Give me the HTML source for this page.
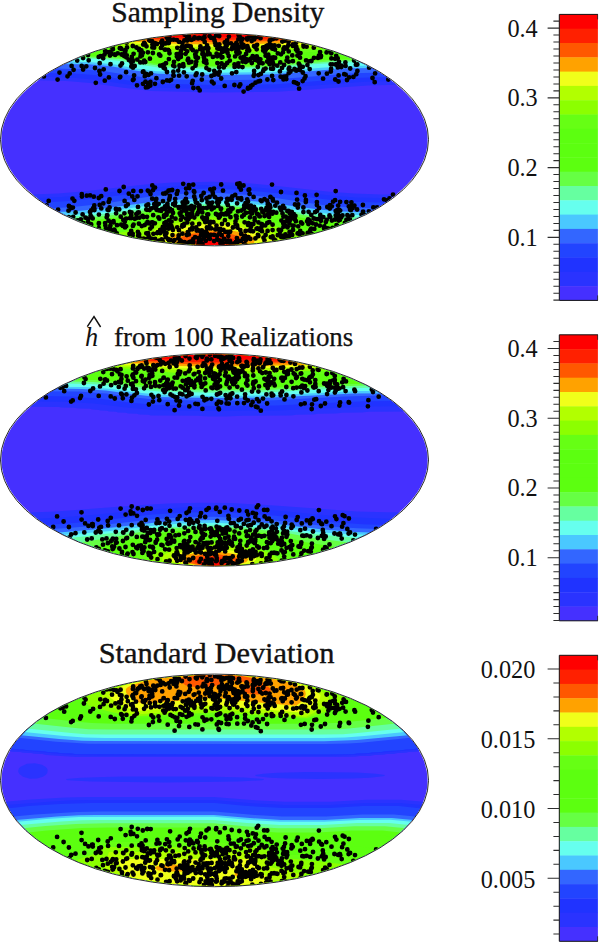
<!DOCTYPE html>
<html><head><meta charset="utf-8"><style>
html,body{margin:0;padding:0;background:#fff;}
svg{display:block;}
text{font-family:"Liberation Serif",serif;fill:#111;}
.lab{font-size:24.3px;}
.ttl{font-size:29px;stroke:#111;stroke-width:0.35px;}
</style></head><body>
<svg width="600" height="942" viewBox="0 0 600 942">
<text x="111.2" y="22" class="ttl" textLength="213" lengthAdjust="spacingAndGlyphs">Sampling Density</text>
<path d="M87.3 326.6L94 316.5L100.6 327" stroke="#111" stroke-width="1.45" fill="none"/>
<text x="85" y="345.8" style="font-size:26.3px;font-style:italic">h</text>
<text x="114" y="345.8" style="font-size:26.3px;stroke:#111;stroke-width:0.25px" textLength="239.3" lengthAdjust="spacingAndGlyphs">from 100 Realizations</text>
<text x="98.7" y="662.5" class="ttl" textLength="235.7" lengthAdjust="spacingAndGlyphs">Standard Deviation</text>
<clipPath id="cp0"><ellipse cx="214.5" cy="139.5" rx="213.1" ry="105.5"/></clipPath>
<g clip-path="url(#cp0)">
<rect x="0" y="31.2" width="432" height="216.6" fill="#4530ff"/>
<path fill="#2a33ff" fill-rule="evenodd" d="M-1 30.2L431 30.2L431 84.7L398 84.7L368 85.4L278 91.8L214 92.5L151 91.1L121 87.6L93.2 83.2L66 81L37 80.3L-2 80.3L-2 30.2ZM188 182.2L213 181.8L251 183.6L275 185.7L327 191.5L354 193.6L381 194.6L431 194.6L431 248.2L-2 248.2L-2 194.6L32 194.5L58 193.4L84.8 191.2L145 184.6L172 182.6Z"/>
<path fill="#2033ff" fill-rule="evenodd" d="M-1 30.2L431 30.2L431 81.1L394 81.1L365 81.8L277 88.3L214 89L152 87.5L124 84.1L97 79.7L70 77.5L41 76.7L-2 76.7L-2 30.2ZM191 185.2L216 185.1L243 186.3L275.5 189.2L333 195.7L356 197.4L380 198.1L431 198.1L431 248.2L-2 248.2L-2 198.1L36 198.1L61 197L90 194.4L151 187.5Z"/>
<path fill="#2244ff" fill-rule="evenodd" d="M-1 30.2L431 30.2L431 77.1L388 77.1L360 77.8L276 84.2L214 85L154 83.6L127 80.2L100 75.6L75 73.6L47 72.9L-2 72.9L-2 30.2ZM181 189.2L214 188.6L246 190.2L276.9 193.2L331 200L354 201.7L377 202.4L431 202.4L431 248.2L-2 248.2L-2 202.4L42 202.4L65.8 201.2L95 198.4L151 191.4Z"/>
<path fill="#3366ff" fill-rule="evenodd" d="M-1 30.2L431 30.2L431 72.5L381 72.5L354 73.3L274 79.5L214 80.3L156 78.9L129 75.3L105 71.2L81 69.2L55 68.5L-2 68.5L-2 30.2ZM191 193.2L215 192.8L246 194.7L274 197.7L326 205.5L347 207.3L372 208.2L431 208.3L431 248.2L-2 248.2L-2 208.3L51 208.3L70 207.2L101 203.9L154 195.9Z"/>
<path fill="#4ac8ff" fill-rule="evenodd" d="M-1 30.2L431 30.2L431 67.7L346.4 68.2L271 74.4L214 75.1L158 73.8L130 69.8L111.2 66.2L88.2 64.2L-2 63.8L-2 30.2ZM187 199.1L214 198.5L238 199.8L270 202.9L321 209.8L343 211.5L364 212.1L431 212.1L431 248.2L-2 248.2L-2 212.1L58 212.1L75 211.3L105 208.3L156 201.4Z"/>
<path fill="#66ffee" fill-rule="evenodd" d="M-1 30.2L431 30.2L431 65.4L355 65.8L321 67.7L271 72.2L214 72.8L157 71.2L135 68.2L115 64.4L92 62.3L68 61.5L-2 61.5L-2 30.2ZM181 202.2L213 201.3L238 202.6L270 205.8L318 212.7L335.8 214.2L358 214.9L431 214.8L431 248.2L-2 248.2L-2 214.8L63 214.8L79.6 214.2L109 211.2L156.8 204.2Z"/>
<path fill="#66ffa0" fill-rule="evenodd" d="M-1 30.2L431 30.2L431 62L345.6 62.2L313.6 64.2L290 66.7L267 68.5L214 69.1L162 67.9L140 64.8L122 61.2L104.5 59.2L79 58.2L-2 58.2L-2 30.2ZM194 204.2L215 203.9L245 205.7L266 207.9L315 214.5L334 216L355 216.7L431 216.7L431 248.2L-2 248.2L-2 216.7L66 216.7L82 216L107 213.6L156 206.8L178 204.9Z"/>
<path fill="#66ff44" fill-rule="evenodd" d="M-1 30.2L431 30.2L431 60.4L357 60.4L335 61L267 66.9L214 67.5L163 66.2L140 62.9L121 59.1L101 57.7L79 57.2L-2 57.2L-2 30.2ZM184 206.2L214 205.5L243 207.2L268 209.9L314 216.6L335 218.3L353 218.8L431 218.8L431 248.2L-2 248.2L-2 218.8L71 218.8L84 218.1L114 215L159 208.3Z"/>
<path fill="#5cff10" fill-rule="evenodd" d="M-1 30.2L431 30.2L431 59.2L334 59.5L308 61.5L271 65.2L214 66.2L164 64.7L144.8 62.2L122 57.8L103 56.5L-2 56.3L-2 30.2ZM184 208.2L213 207.3L236 208.5L267 211.9L310 219L332 220.8L349 221.3L431 221.3L431 248.2L-2 248.2L-2 221.3L77 221.3L88 220.7L117 217.5L160.9 210.2Z"/>
<path fill="#5cff10" fill-rule="evenodd" d="M-1 30.2L431 30.2L431 56L328 56.3L305 57.6L263 61.4L215 62L167 60.8L128.7 55.2L110 54.1L-2 53.7L-2 30.2ZM189 210.2L214 209.5L240 211.2L265 214.2L306 221.6L326 223.4L344 224L431 224L431 248.2L-2 248.2L-2 224L83 224L93 223.5L121 220.2L162 212.6Z"/>
<path fill="#5cff10" fill-rule="evenodd" d="M-1 30.2L431 30.2L431 53.7L321 54L301 55.1L261 58.3L215 59L169 57.8L132 53L113 52L-2 51.7L-2 30.2ZM201 212.2L218 212.1L246 214.5L264 216.9L301 224.2L320 226L337 226.6L431 226.6L431 248.2L-2 248.2L-2 226.6L96 226.4L110 225.1L125 222.9L146.8 218.2L164 215.2L182 213.3Z"/>
<path fill="#66ff14" fill-rule="evenodd" d="M-1 30.2L431 30.2L431 51.4L316 51.7L258 55.4L215 56L171 54.9L136 50.8L118 50L-2 49.7L-2 30.2ZM192 215.2L215 214.5L241 216.5L263 219.6L296 227.1L317 229.3L329 229.8L431 229.8L431 248.2L-2 248.2L-2 229.8L103 229.7L115 228.4L130 225.9L147.9 221.2L166 217.7Z"/>
<path fill="#8cff00" fill-rule="evenodd" d="M-1 30.2L431 30.2L431 48.9L309 49.1L255 52.1L215 52.5L175 51.7L141 48.4L124 47.7L-2 47.5L-2 30.2ZM204 217.2L222 217.4L250 220.6L268.1 224.2L289 230.4L312 233.5L431 233.7L431 248.2L-2 248.2L-2 233.7L116 233.5L137.4 229.2L152.3 224.2L168 220.6L186 218.4Z"/>
<path fill="#b2ff00" fill-rule="evenodd" d="M-1 30.2L431 30.2L431 46.6L303 46.8L252 49.2L215 49.5L177 48.9L146.7 46.2L129 45.6L-2 45.5L-2 30.2ZM205 220.2L215 219.9L225 220.7L240 222.5L256 225.2L268.6 229.2L273.3 232.2L277 235.6L284.4 237.2L291 237.9L431 238.1L431 248.2L-2 248.2L-2 238.1L135 238.1L148 235.1L149.9 234.2L152.3 231.2L156.9 228.2L161.4 226.2L167 224.7L184 221.9Z"/>
<path fill="#f0ff1a" fill-rule="evenodd" d="M-1 30.2L431 30.2L431 44.6L309 44.7L281 45.3L249 46.7L215 47L180 46.5L151 44.3L135 43.8L-2 43.7L-2 30.2ZM214 223.2L233 225.6L251 229.6L262 235.2L267 239.1L276 241L431 241.1L431 248.2L-2 248.2L-2 241.1L152 241L159 238.2L163.4 234.2L176 228.2L194 225Z"/>
<path fill="#ffa200" fill-rule="evenodd" d="M-1 30.2L431 30.2L431 42.7L300 42.7L246 44.3L215 44.5L183 44.1L142 42.1L-2 42L-2 30.2ZM202 229.1L214 228.4L218 228.7L233 230.7L246 233.5L250.2 235.2L253.4 237.2L254.9 239.2L255 240.2L253.9 242.2L254.3 243.2L257 243.7L431 243.9L431 248.2L-2 248.2L-2 243.9L171 243.7L173.1 243.2L171 240.2L170.6 238.2L172.2 236.2L175.4 234.2L180 232.4L184 231.5Z"/>
<path fill="#ff5800" fill-rule="evenodd" d="M-1 30.2L431 30.2L431 40.8L291 40.8L215 42L187 41.8L147 40.4L-2 40.3L-2 30.2ZM205 232.2L215 231.7L231 233.9L243 237.2L245.3 239.2L245.6 240.2L244.2 242.2L237 244.4L227 245.9L214 246.1L202 245.9L191 244.3L182.5 242.2L180.1 240.2L180 239.2L181.4 237.2L185 235.4L194 233.5Z"/>
<path fill="#ff2000" fill-rule="evenodd" d="M-1 30.2L431 30.2L431 39.2L285 39.2L215 39.9L155 38.9L-2 38.8L-2 30.2ZM208 235.2L215 234.8L225 236.3L234 238.9L236.8 240.2L237.2 241.2L236.5 242.2L234.6 243.2L231.5 244.2L223 245.5L211 245.7L205 245.5L196.5 244.2L190.6 242.2L188.7 240.2L190 238.8L194.9 237.2Z"/>
<path fill="#ff0000" fill-rule="evenodd" d="M-1 30.2L431 30.2L431 37.2L-2 37.1L-2 30.2ZM213 238.2L216 238.3L223 240.2L226 242L226.3 243.2L224.9 244.2L221.3 245.2L211 245.4L202.3 244.2L200.1 243.2L199.7 242.2L200.5 241.2L204 239.8Z"/>
<path d="M158.4 217.3h0M219.4 233.5h0M284.2 39.8h0M337.8 67.4h0M219.8 216.4h0M350.1 209.8h0M235.5 221.3h0M88.0 221.8h0M237.5 240.4h0M207.5 202.5h0M200.4 46.3h0M288.7 51.4h0M86.4 218.1h0M201.2 239.8h0M296.3 46.7h0M252.1 212.6h0M316.9 202.1h0M311.7 234.1h0M146.3 233.3h0M320.0 218.1h0M105.4 225.4h0M234.1 243.5h0M190.2 217.0h0M105.1 223.1h0M153.4 233.8h0M273.1 200.7h0M345.6 65.9h0M344.9 222.9h0M114.9 230.9h0M338.5 81.5h0M167.6 206.4h0M213.6 38.1h0M258.4 81.4h0M124.8 52.1h0M178.2 59.1h0M288.7 61.7h0M222.4 57.2h0M165.2 193.6h0M296.0 49.5h0M242.7 61.5h0M238.1 198.4h0M344.2 74.2h0M264.5 216.1h0M214.2 207.6h0M219.6 232.5h0M179.6 66.3h0M232.3 196.4h0M94.4 210.1h0M316.9 205.1h0M194.0 207.8h0M174.5 240.1h0M156.9 203.7h0M284.4 208.1h0M192.3 223.7h0M386.8 200.5h0M254.7 210.4h0M288.7 73.2h0M296.5 192.9h0M215.4 229.4h0M209.0 237.6h0M68.9 206.0h0M209.6 226.8h0M168.0 40.1h0M250.1 212.5h0M224.7 85.9h0M307.7 234.2h0M187.1 214.6h0M254.1 70.9h0M227.5 50.2h0M256.7 49.3h0M160.9 47.9h0M144.8 76.2h0M157.0 44.0h0M247.9 60.6h0M166.3 192.7h0M267.6 230.9h0M176.9 56.5h0M188.2 58.7h0M220.2 228.8h0M309.6 220.4h0M292.9 61.2h0M131.5 212.5h0M251.0 85.9h0M120.7 216.7h0M161.6 42.0h0M263.2 70.9h0M180.8 56.9h0M298.2 204.3h0M247.2 199.3h0M292.3 216.4h0M246.8 38.4h0M207.1 233.7h0M363.1 211.6h0M169.4 224.9h0M269.8 41.0h0M225.2 47.4h0M138.9 212.5h0M198.0 212.5h0M203.9 233.8h0M255.1 47.0h0M309.7 69.1h0M192.4 210.6h0M155.0 187.6h0M164.4 223.2h0M132.6 235.6h0M246.6 203.9h0M142.9 71.9h0M356.3 74.2h0M292.0 218.4h0M106.7 217.3h0M123.7 187.0h0M337.1 210.1h0M68.5 210.7h0M287.3 47.1h0M219.4 44.4h0M137.8 212.6h0M265.8 209.8h0M236.6 218.6h0M206.1 60.6h0M265.6 68.6h0M169.9 195.8h0M214.9 197.1h0M255.5 82.7h0M251.9 224.2h0M325.8 222.1h0M199.1 206.7h0M240.8 240.9h0M190.1 207.2h0M82.6 214.4h0M206.4 198.6h0M373.3 207.4h0M307.1 221.3h0M187.0 45.7h0M242.6 47.7h0M242.5 67.1h0M231.8 49.0h0M232.5 46.7h0M206.4 218.2h0M48.7 200.9h0M117.7 53.3h0M193.9 191.2h0M116.7 209.6h0M112.9 49.3h0M68.8 217.1h0M192.1 229.3h0M150.7 208.6h0M169.5 80.8h0M248.6 189.9h0M105.8 189.4h0M288.6 211.0h0M311.6 233.8h0M230.3 211.6h0M345.4 62.4h0M244.4 60.1h0M320.1 52.1h0M143.0 83.8h0M168.1 49.8h0M179.7 213.3h0M167.4 204.9h0M192.6 68.3h0M250.3 238.9h0M353.4 76.9h0M248.0 48.1h0M119.2 209.4h0M234.4 85.0h0M231.0 43.3h0M269.1 210.4h0M192.2 227.9h0M261.6 201.2h0M108.9 77.4h0M140.3 62.4h0M255.9 209.5h0M221.7 235.2h0M267.2 48.1h0M152.9 53.0h0M187.3 202.3h0M263.1 47.4h0M241.2 234.0h0M181.7 47.1h0M277.8 53.3h0M168.8 43.0h0M324.3 226.4h0M291.6 214.5h0M313.8 47.7h0M137.9 232.0h0M287.5 227.3h0M58.1 209.7h0M183.9 72.3h0M115.9 209.0h0M234.1 48.2h0M321.0 55.9h0M278.8 45.8h0M314.3 228.9h0M146.5 46.3h0M165.3 225.5h0M209.4 228.3h0M178.9 208.1h0M324.2 226.8h0M293.7 225.7h0M241.3 210.6h0M309.0 61.3h0M329.8 208.6h0M141.8 226.1h0M153.5 43.2h0M186.9 235.0h0M357.3 64.5h0M249.4 208.1h0M226.3 213.2h0M173.6 39.7h0M260.5 38.2h0M177.8 86.4h0M172.0 210.2h0M199.7 90.4h0M216.9 235.7h0M272.7 199.0h0M240.6 57.6h0M74.3 200.8h0M114.3 54.3h0M152.3 185.5h0M124.8 221.7h0M218.9 217.7h0M349.1 77.3h0M247.2 207.2h0M335.1 219.5h0M165.2 209.0h0M169.2 240.8h0M119.8 48.2h0M290.4 71.7h0M204.0 61.8h0M219.2 36.2h0M209.6 54.0h0M78.1 220.4h0M357.4 70.9h0M179.5 65.5h0M203.3 37.7h0M159.0 240.7h0M169.0 220.5h0M279.9 71.4h0M339.2 215.8h0M336.2 55.8h0M305.8 202.0h0M131.2 230.9h0M342.5 215.5h0M182.2 206.7h0M268.0 47.4h0M267.3 223.0h0M236.3 72.1h0M252.6 84.8h0M126.1 72.2h0M145.3 62.0h0M169.0 50.8h0M214.5 40.4h0M119.9 77.3h0M299.1 88.7h0M149.9 40.8h0M221.5 213.6h0M179.6 239.8h0M107.6 209.7h0M323.1 78.7h0M339.2 209.8h0M272.1 76.0h0M320.9 220.8h0M198.6 242.1h0M147.0 216.8h0M108.5 210.2h0M212.3 202.6h0M230.8 243.6h0M206.5 63.4h0M178.6 207.1h0M187.0 37.0h0M270.8 237.1h0M280.3 62.4h0M289.4 235.9h0M338.7 220.6h0M172.9 229.9h0M389.5 198.5h0M238.3 63.3h0M202.3 217.5h0M196.2 227.3h0M112.9 46.2h0M280.1 231.5h0M189.0 62.7h0M189.7 214.0h0M109.5 199.3h0M120.3 76.8h0M131.3 66.5h0M100.1 74.5h0M188.8 36.3h0M170.0 209.0h0M124.4 213.3h0M304.9 195.5h0M262.0 231.2h0M252.1 213.4h0M88.1 219.2h0M311.2 228.6h0M187.2 40.5h0M242.2 216.5h0M108.3 229.0h0M264.5 240.4h0M114.3 229.6h0M230.7 244.2h0M352.6 208.0h0M95.0 68.0h0M365.0 214.8h0M198.8 230.5h0M120.6 48.1h0M202.8 52.5h0M201.8 79.6h0M243.4 44.8h0M337.1 225.8h0M200.6 48.5h0M267.1 200.6h0M88.7 60.3h0M283.5 226.7h0M193.4 241.9h0M222.0 224.0h0M286.3 79.0h0M341.4 65.7h0M297.9 83.8h0M298.2 226.3h0M164.2 231.8h0M171.5 226.2h0M191.6 214.4h0M162.3 65.7h0M260.8 73.9h0M218.7 214.8h0M303.5 45.0h0M270.4 207.3h0M280.6 76.7h0M238.7 66.5h0M193.4 88.0h0M246.1 53.9h0M234.1 44.8h0M272.3 48.7h0M219.1 67.4h0M43.9 76.4h0M289.3 217.8h0M350.8 210.2h0M173.4 241.3h0M269.5 64.1h0M270.4 196.9h0M350.2 68.5h0M172.1 190.2h0M87.8 218.8h0M151.2 208.4h0M146.1 74.0h0M147.8 190.6h0M254.1 39.4h0M185.9 198.9h0M192.7 80.9h0M283.1 205.9h0M303.4 212.1h0M307.7 232.9h0M241.1 198.1h0M110.2 51.8h0M149.6 210.0h0M217.4 48.4h0M240.3 230.1h0M136.3 218.0h0M195.8 64.3h0M217.5 199.2h0M276.3 212.7h0M147.6 222.0h0M191.5 61.8h0M244.7 59.5h0M181.1 54.3h0M86.8 195.7h0M309.9 231.7h0M194.5 37.3h0M93.0 208.5h0M124.6 200.9h0M202.5 243.9h0M177.3 47.8h0M227.0 242.3h0M224.0 214.4h0M177.6 191.1h0M144.2 60.6h0M256.4 37.1h0M193.1 243.1h0M304.5 78.6h0M242.8 239.0h0M184.4 40.5h0M164.3 64.4h0M245.0 235.9h0M178.9 230.2h0M265.2 225.4h0M206.2 234.8h0M237.1 203.3h0M143.5 217.0h0M263.3 212.3h0M249.2 189.5h0M176.7 54.1h0M71.6 65.9h0M226.8 45.4h0M337.9 213.2h0M176.8 193.9h0M157.9 232.2h0M241.1 39.3h0M198.7 238.6h0M104.5 54.6h0M148.5 74.9h0M263.8 69.4h0M259.2 62.4h0M253.7 75.8h0M245.9 239.9h0M284.5 238.6h0M189.3 188.1h0M272.7 62.2h0M287.2 217.9h0M346.4 219.7h0M293.0 230.0h0M257.7 60.8h0M273.3 80.1h0M272.9 45.6h0M105.1 51.1h0M296.2 42.5h0M139.4 237.3h0M204.9 33.5h0M194.3 191.9h0M207.5 221.4h0M192.3 214.2h0M275.0 49.3h0M291.8 211.8h0M229.9 198.9h0M335.7 215.3h0M187.8 232.1h0M300.2 231.0h0M221.6 63.5h0M245.7 62.1h0M123.5 224.8h0M330.0 205.1h0M338.6 75.4h0M258.3 236.2h0M143.4 71.3h0M262.4 211.8h0M220.9 198.8h0M85.5 217.7h0M175.2 202.8h0M199.1 209.5h0M335.7 191.1h0M329.6 216.8h0M132.9 80.1h0M198.1 245.1h0M201.2 234.5h0M152.4 47.4h0M168.6 211.4h0M316.0 224.5h0M57.6 79.6h0M243.1 47.3h0M187.7 60.1h0M169.7 197.6h0M265.6 55.7h0M228.3 236.1h0M237.3 184.0h0M307.4 65.1h0M198.1 88.1h0M70.4 207.1h0M93.8 196.7h0M300.5 53.1h0M155.8 200.2h0M290.1 220.1h0M225.9 44.2h0M73.6 69.8h0M328.3 228.7h0M289.3 67.7h0M235.8 215.8h0M346.4 202.1h0M165.3 49.7h0M319.1 208.0h0M132.3 196.4h0M83.1 69.5h0M186.1 211.2h0M137.0 85.3h0M177.9 56.3h0M285.0 221.9h0M150.3 228.6h0M142.6 215.9h0M271.3 61.6h0M143.3 62.3h0M126.6 42.7h0M163.6 67.8h0M127.8 204.5h0M235.1 56.4h0M193.4 239.0h0M149.1 40.0h0M250.9 227.1h0M98.9 214.6h0M243.5 185.5h0M240.3 84.5h0M281.0 54.3h0M227.9 224.5h0M204.9 221.1h0M292.2 235.0h0M111.7 230.3h0M261.2 208.8h0M292.9 45.9h0M199.4 210.3h0M231.0 208.5h0M163.2 242.7h0M324.1 228.4h0M335.2 79.5h0M195.8 202.3h0M232.9 227.5h0M318.7 73.3h0M46.6 205.3h0M220.9 48.2h0M199.4 241.1h0M375.1 73.4h0M232.0 73.3h0M292.9 214.7h0M283.4 216.6h0M144.3 239.0h0M219.7 71.8h0M312.7 223.3h0M160.2 229.8h0M185.9 218.6h0M327.3 207.0h0M247.4 46.1h0M258.5 59.0h0M278.2 235.2h0M249.9 217.3h0M203.9 57.3h0M284.3 47.4h0M181.3 241.5h0M238.3 49.8h0M272.6 224.7h0M122.0 63.5h0M351.9 205.5h0M180.9 51.1h0M330.8 71.5h0M159.3 218.7h0M211.2 206.0h0M229.8 60.6h0M229.8 232.0h0M120.5 65.6h0M272.6 230.1h0M297.1 199.7h0M284.9 225.9h0M202.3 212.4h0M292.5 225.7h0M336.4 64.3h0M159.9 240.5h0M308.6 211.8h0M90.6 215.4h0M254.7 220.4h0M257.8 67.0h0M258.5 214.7h0M141.6 54.4h0M347.0 80.0h0M185.6 53.8h0M88.0 55.0h0M272.6 236.5h0M208.4 48.2h0M204.7 41.9h0M337.2 65.4h0M265.8 49.8h0M245.6 212.9h0M331.9 220.5h0M295.0 204.5h0M248.0 201.6h0M340.1 216.6h0M146.4 205.5h0M257.1 214.0h0M91.2 210.4h0M306.1 60.4h0M124.2 56.0h0M242.3 39.0h0M164.1 229.3h0M297.8 207.5h0M269.3 44.7h0M211.2 228.3h0M247.3 39.6h0M217.8 44.7h0M196.6 73.3h0M279.9 207.7h0M80.9 219.3h0M182.7 45.3h0M207.2 54.4h0M326.9 73.7h0M216.3 35.4h0M150.4 81.9h0M263.2 50.4h0M291.2 233.5h0M282.0 67.9h0M303.6 46.5h0M335.7 211.1h0M264.5 199.1h0M138.1 235.7h0M140.8 54.3h0M165.0 206.3h0M162.7 241.3h0M244.0 208.5h0M199.2 224.0h0M223.7 67.4h0M315.1 212.2h0M341.2 217.4h0M218.0 48.7h0M177.2 227.3h0M253.3 58.0h0M340.1 201.8h0M274.6 45.5h0M320.3 214.9h0M108.6 220.7h0M184.7 242.1h0M221.2 78.5h0M75.6 212.5h0M318.0 57.9h0M209.0 206.6h0M72.5 198.6h0M163.2 193.6h0M162.2 45.3h0M289.6 231.9h0M267.1 61.6h0M247.9 88.7h0M160.1 65.6h0M217.6 215.0h0M116.8 233.5h0M204.4 48.4h0M238.6 35.1h0M221.1 208.7h0M288.7 68.9h0M105.9 228.3h0M189.2 242.1h0M195.1 237.2h0M183.2 64.2h0M148.7 191.3h0M170.8 226.5h0M144.2 42.8h0M230.2 231.6h0M257.9 234.9h0M161.2 42.4h0M206.9 218.2h0M253.6 196.9h0M132.9 225.9h0M124.1 224.9h0M280.5 208.8h0M297.3 51.2h0M191.3 39.9h0M182.7 202.6h0M254.0 46.1h0M154.9 223.3h0M302.6 233.3h0M195.7 75.2h0M283.5 79.4h0M348.8 206.3h0M236.4 42.8h0M248.0 224.9h0M153.1 190.1h0M258.5 222.4h0M186.7 76.3h0M191.5 205.8h0M277.8 235.2h0M281.0 192.0h0M213.4 222.2h0M224.7 42.4h0M161.1 210.9h0M205.0 218.5h0M268.5 212.9h0M137.5 196.3h0M336.5 225.2h0M170.0 190.3h0M244.6 222.3h0M253.0 58.0h0M248.5 223.1h0M169.2 199.7h0M143.2 44.6h0M209.6 36.2h0M341.3 67.0h0M243.9 244.3h0M237.3 44.9h0M266.5 208.0h0M166.7 37.4h0M273.4 57.3h0M154.2 207.6h0M393.0 194.6h0M238.4 39.2h0M211.9 81.7h0M232.6 208.5h0M174.4 66.3h0M71.0 208.1h0M174.4 66.3h0M182.3 217.0h0M331.1 69.0h0M136.4 47.5h0M207.3 236.2h0M162.9 65.2h0M249.6 193.9h0M69.7 73.5h0M251.8 63.0h0M217.6 203.5h0M188.8 234.4h0M281.2 237.0h0M125.6 50.0h0M164.9 223.2h0M295.9 82.8h0M275.1 57.7h0M259.3 63.2h0M284.1 76.6h0M152.0 41.1h0M281.1 230.0h0M197.3 203.1h0M266.3 46.2h0M159.1 54.5h0M311.4 61.0h0M201.3 196.0h0M153.2 215.2h0M103.7 69.3h0M183.2 183.8h0M231.7 199.8h0M244.2 237.0h0M139.0 49.0h0M209.2 69.8h0M351.4 202.3h0M354.1 60.5h0M302.2 223.6h0M196.7 230.6h0M178.5 244.0h0M211.2 37.9h0M98.9 228.2h0M225.3 65.0h0M273.2 211.9h0M287.6 219.3h0M319.8 225.7h0M347.4 215.2h0M145.5 81.7h0M206.9 208.0h0M171.1 79.8h0M197.9 57.8h0M172.4 228.5h0M235.5 223.4h0M193.9 207.8h0M103.3 203.4h0M227.6 52.9h0M339.0 61.8h0M219.6 48.7h0M260.2 229.9h0M164.7 49.6h0M300.0 57.7h0M175.0 205.4h0M237.3 53.8h0M186.1 188.6h0M241.3 233.3h0M143.7 238.6h0M100.7 56.2h0M273.0 68.8h0M293.8 214.2h0M126.4 57.3h0M217.1 202.2h0M282.3 41.6h0M169.4 36.4h0M297.4 55.6h0M247.7 201.2h0M167.9 238.9h0M269.8 205.2h0M180.8 219.8h0M183.5 66.3h0M294.8 69.7h0M173.4 75.4h0M72.9 207.6h0M180.6 57.0h0M254.6 218.2h0M238.1 46.9h0M166.0 237.2h0M210.9 234.9h0M216.6 53.7h0M156.6 209.8h0M283.0 52.3h0M128.8 193.7h0M110.4 225.6h0M295.4 215.9h0M262.6 63.3h0M288.4 44.9h0M317.0 219.2h0M251.7 41.1h0M179.3 54.6h0M145.9 87.4h0M195.5 55.7h0M288.6 41.7h0M203.7 193.0h0M245.3 244.3h0M270.0 211.4h0M248.0 88.0h0M352.3 215.2h0M129.9 211.9h0M234.6 66.9h0M221.6 57.6h0M168.9 59.1h0M176.9 40.1h0M267.4 79.5h0M275.0 49.6h0M308.4 224.0h0M239.6 183.3h0M208.9 202.8h0M272.2 213.7h0M326.6 52.4h0M303.4 207.5h0M202.4 38.8h0M272.0 184.6h0M272.4 58.9h0M168.5 190.7h0M133.3 190.9h0M205.6 218.8h0M252.7 56.2h0M167.4 203.7h0M117.0 225.2h0M166.2 221.9h0M256.4 36.6h0M178.7 235.5h0M138.0 206.9h0M270.5 44.9h0M219.5 240.6h0M355.9 64.7h0M224.9 220.2h0M293.0 44.3h0M211.4 76.0h0M179.1 75.7h0M277.3 65.7h0M224.1 238.9h0M203.4 218.2h0M183.6 209.7h0M182.6 202.3h0M141.9 55.4h0M91.2 224.5h0M160.2 210.2h0M167.0 72.0h0M255.3 59.9h0M220.1 54.7h0M199.5 205.5h0M240.9 189.7h0M294.5 69.0h0M154.1 47.7h0M330.7 64.3h0M125.0 227.4h0M166.5 233.1h0M193.8 38.8h0M225.2 231.8h0M240.8 57.7h0M361.5 214.6h0M281.1 210.1h0M253.7 58.1h0M99.7 63.2h0M131.4 62.4h0M160.3 55.7h0M260.1 81.0h0M335.1 58.8h0M239.7 36.8h0M339.8 219.9h0M107.3 52.1h0M272.5 39.2h0M236.6 216.3h0M285.5 48.6h0M152.2 198.7h0M129.9 218.1h0M236.9 238.1h0M172.5 235.1h0M174.0 61.9h0M121.6 54.5h0M148.1 233.1h0M162.8 226.9h0M113.5 221.2h0M298.8 63.7h0M179.1 41.9h0M216.5 225.7h0M228.2 210.5h0M164.0 215.3h0M81.8 194.2h0M235.2 46.5h0M261.9 224.2h0M199.1 38.0h0M254.1 207.0h0M295.9 221.2h0M297.2 49.3h0M275.1 57.9h0M191.4 48.8h0M115.1 54.9h0M348.3 216.1h0M195.6 57.1h0M290.6 71.1h0M156.4 78.2h0M132.7 60.1h0M165.1 234.9h0M122.9 225.9h0M222.9 242.9h0M146.5 223.4h0M250.8 205.6h0M133.6 53.8h0M180.1 55.6h0M258.5 75.1h0M178.2 70.6h0M116.1 213.3h0M141.4 50.4h0M137.3 59.6h0M308.1 219.5h0M139.1 234.2h0M189.2 37.1h0M188.9 185.1h0M152.5 222.5h0M227.2 63.0h0M228.9 199.6h0M301.0 222.3h0M335.6 64.5h0M166.0 63.2h0M127.0 47.4h0M170.1 40.0h0M189.5 208.5h0M98.8 223.8h0M149.3 223.3h0M243.8 56.9h0M250.3 87.5h0M217.4 228.8h0M227.7 240.6h0M76.7 220.7h0M202.4 53.9h0M183.8 225.8h0M150.5 194.0h0M228.9 36.6h0M354.4 205.7h0M81.7 66.0h0M209.9 238.8h0M296.2 70.7h0M205.8 240.8h0M173.4 71.7h0M140.5 56.4h0M94.4 208.7h0M268.3 54.7h0M282.3 236.4h0M195.5 54.3h0M158.8 203.8h0M349.9 219.3h0M177.8 54.2h0M297.6 233.4h0M241.3 199.6h0M247.3 50.6h0M261.6 224.2h0M374.7 82.2h0M224.7 48.7h0M259.8 216.4h0M213.6 83.3h0M227.5 204.3h0M101.3 208.4h0M257.6 228.5h0M131.8 57.0h0M265.2 215.3h0M186.2 193.3h0M157.2 233.1h0M98.9 223.1h0M299.7 234.4h0M333.1 201.6h0M384.0 199.3h0M257.1 44.8h0M267.6 45.3h0M182.4 42.9h0M277.0 202.7h0M239.2 86.3h0M164.0 216.9h0M310.3 230.1h0M142.9 52.8h0M196.3 61.4h0M119.5 191.0h0M184.7 200.7h0M166.6 214.8h0M289.8 213.2h0M175.2 199.0h0M330.3 217.1h0M248.7 37.3h0M220.5 243.0h0M194.4 206.8h0M188.6 219.1h0M194.2 196.4h0M147.9 87.0h0M180.6 52.7h0M186.0 244.1h0M293.9 82.2h0M165.0 207.8h0M223.5 230.0h0M180.7 215.4h0M203.4 55.1h0M245.9 58.8h0M305.5 76.2h0M345.6 74.6h0M227.4 231.8h0M305.9 200.0h0M227.5 43.9h0M330.1 207.3h0M139.3 217.7h0M299.8 69.9h0M99.7 204.9h0M175.5 218.7h0M110.5 64.2h0M263.5 237.7h0M285.0 40.7h0M302.8 66.8h0M182.7 242.1h0M323.3 217.1h0M235.2 195.0h0M284.1 65.0h0M204.3 59.0h0M219.0 202.0h0M198.1 38.4h0M299.8 66.8h0M179.9 207.1h0M184.7 204.0h0M203.2 208.1h0M332.3 64.3h0M126.0 206.1h0M190.7 46.3h0M283.3 223.5h0M252.4 36.3h0M331.4 58.4h0M156.5 206.1h0M267.9 203.3h0M133.6 224.6h0M192.0 241.2h0M217.2 56.3h0M209.5 197.0h0M223.0 190.7h0M150.3 85.5h0M228.7 56.0h0M207.9 51.6h0M239.6 52.8h0M256.8 56.4h0M316.9 211.1h0M94.3 205.4h0M212.7 192.4h0M271.0 68.7h0M302.7 81.1h0M264.7 51.8h0M206.4 68.1h0M289.3 222.9h0M211.1 206.7h0M377.1 207.4h0M286.6 60.6h0M125.3 51.8h0M214.1 241.1h0M287.9 226.3h0M192.8 50.2h0M214.3 74.7h0M111.1 53.9h0M149.9 58.7h0M155.0 83.8h0M327.7 228.3h0M285.4 234.5h0M234.5 64.4h0M182.4 233.7h0M220.8 209.0h0M331.8 206.3h0M140.9 53.5h0M309.4 222.2h0M286.1 76.5h0M178.4 238.1h0M222.1 51.3h0M236.0 242.0h0M121.2 224.7h0M205.3 222.2h0M212.9 56.9h0M226.4 202.3h0M246.2 212.8h0M292.3 55.4h0M337.3 219.3h0M167.0 80.4h0M81.9 196.6h0M273.6 64.7h0M207.3 214.4h0M318.9 55.7h0M83.1 58.1h0M251.1 208.5h0M206.9 198.1h0M134.7 66.0h0M299.5 65.0h0M237.4 242.6h0M276.5 38.3h0M302.8 72.5h0M188.5 215.8h0M171.5 221.7h0M198.8 237.9h0M241.4 42.2h0M90.9 224.2h0M368.9 211.3h0M214.2 70.8h0M201.8 230.3h0M216.1 72.6h0M172.2 190.0h0M214.3 74.3h0M148.2 204.5h0M132.7 233.8h0M162.2 208.9h0M208.2 214.4h0M203.3 238.2h0M275.3 205.7h0M224.6 51.0h0M147.9 83.3h0M131.2 214.4h0M217.4 63.1h0M210.8 221.9h0M214.0 188.6h0M269.1 216.9h0M296.3 69.8h0M173.0 212.9h0M101.2 196.2h0M59.5 72.6h0M111.7 46.7h0M314.0 57.8h0M306.6 46.7h0M211.7 209.3h0M162.8 82.0h0M207.1 45.3h0M316.6 194.8h0M86.3 66.3h0M148.6 235.8h0M362.9 205.0h0M310.5 222.4h0M193.2 184.7h0M228.0 214.2h0M241.8 45.3h0M129.5 234.0h0M278.7 229.8h0M155.1 238.9h0M297.5 50.0h0M203.7 219.3h0M168.3 228.7h0M195.5 65.7h0M295.1 219.8h0M162.2 40.7h0M154.2 204.2h0M192.1 83.2h0M121.3 48.9h0M188.2 46.0h0M245.5 203.1h0M243.9 214.9h0M215.5 45.0h0M113.6 222.3h0M332.6 227.9h0M244.2 205.4h0M187.4 36.9h0M132.8 46.0h0M91.4 217.0h0M108.7 201.9h0M202.4 234.8h0M170.3 239.8h0M161.7 239.4h0M92.7 218.4h0M136.3 214.1h0M151.9 222.3h0M195.2 54.3h0M201.8 200.2h0M98.7 56.9h0M194.3 217.5h0M186.5 209.8h0M244.6 244.0h0M282.5 213.5h0M195.1 199.5h0M261.2 227.8h0M285.6 216.6h0M131.2 218.0h0M227.2 198.8h0M218.5 74.5h0M181.7 211.5h0M337.7 58.4h0M258.4 235.4h0M134.8 218.8h0M311.3 215.0h0M98.8 198.0h0M210.3 189.3h0M239.4 187.2h0M269.8 40.5h0M269.3 222.2h0M144.7 225.1h0M281.8 235.7h0M109.6 207.5h0M275.3 240.4h0M227.1 40.3h0M320.7 57.2h0M184.3 223.8h0M255.4 238.4h0M134.1 75.3h0M126.2 226.3h0M67.5 76.3h0M133.6 79.3h0M141.0 191.1h0M287.4 211.2h0M319.9 55.5h0M192.4 210.5h0M222.2 52.0h0M221.2 184.5h0M190.1 229.5h0M147.9 52.3h0M206.1 231.7h0M217.2 239.5h0M165.1 43.3h0M215.9 214.0h0M126.8 55.3h0M184.4 48.6h0M107.1 215.1h0M73.2 216.8h0M238.1 48.5h0M243.6 91.6h0M90.1 195.3h0M329.5 215.5h0M326.7 219.8h0M272.4 62.2h0M156.3 199.0h0M182.4 225.2h0M250.9 231.0h0M123.3 219.9h0M283.5 49.0h0M139.2 50.3h0M200.2 49.1h0M165.9 43.4h0M204.5 37.6h0M388.3 79.5h0M226.5 214.3h0M132.9 61.3h0M331.3 53.3h0M95.8 82.8h0M357.1 209.5h0M250.3 58.9h0M340.2 210.6h0M199.9 243.8h0M110.1 229.1h0M227.9 205.2h0M289.8 218.6h0M238.0 211.3h0M154.9 43.2h0M263.9 47.5h0M268.4 58.3h0M220.0 240.7h0M206.9 227.5h0M187.3 222.4h0M287.3 57.6h0M260.4 59.3h0M197.3 214.2h0M349.5 207.0h0M186.7 207.4h0M151.0 73.4h0M165.3 224.4h0M196.4 51.6h0M369.1 67.7h0M215.0 42.7h0M158.9 210.4h0M77.2 60.6h0M270.5 57.6h0M259.3 216.2h0M237.3 240.2h0M256.6 228.6h0M236.3 52.1h0M213.0 194.5h0M209.7 223.6h0M372.5 78.0h0M248.5 237.2h0M131.3 215.7h0M107.4 215.3h0M202.2 74.5h0M104.8 80.7h0M260.7 200.3h0M203.6 235.6h0M230.5 217.2h0M215.9 72.6h0M130.4 60.4h0M171.8 216.8h0M281.4 220.6h0M134.3 199.9h0M237.1 225.3h0M253.0 231.3h0M218.2 205.9h0M265.6 235.0h0M229.9 241.0h0M103.2 58.3h0M128.9 60.0h0M251.6 36.6h0M147.0 209.8h0M254.1 74.7h0M145.2 44.2h0M187.2 51.3h0M148.5 237.5h0M226.1 46.8h0M249.5 230.5h0M313.9 218.5h0M160.2 233.0h0M110.9 222.3h0M274.4 38.4h0M237.4 227.6h0M173.2 65.6h0M287.7 238.0h0M151.9 226.8h0M274.0 239.4h0M99.4 70.9h0M169.5 53.3h0M287.8 236.7h0M173.1 204.2h0M166.6 212.9h0M187.7 38.2h0M146.3 209.6h0M330.7 50.4h0M253.3 224.1h0M173.7 75.8h0M164.9 68.6h0M171.7 227.3h0M245.6 231.0h0M110.0 55.5h0M245.6 46.6h0M214.0 234.8h0M182.2 226.6h0M152.4 44.6h0M151.2 238.6h0M335.1 200.2h0M267.8 204.4h0M338.2 205.6h0M90.0 211.9h0M163.0 201.2h0M184.6 34.7h0M126.1 218.7h0M249.2 50.5h0M162.0 239.6h0M138.9 223.7h0M83.3 223.2h0M133.0 67.7h0M190.2 241.9h0" stroke="#000" stroke-width="4.80" stroke-linecap="round" fill="none"/>
</g>
<ellipse cx="214.5" cy="139.5" rx="214.0" ry="106.3" fill="none" stroke="#111" stroke-width="0.9"/>
<clipPath id="cp1"><ellipse cx="214.5" cy="459.9" rx="213.1" ry="105.5"/></clipPath>
<g clip-path="url(#cp1)">
<rect x="0" y="351.6" width="432" height="216.6" fill="#4530ff"/>
<path fill="#2a33ff" fill-rule="evenodd" d="M-1 350.6L431 350.6L431 411.6L369 411.7L362.2 412.6L342 412.7L336.4 413.6L318 413.8L314 414.6L296 414.8L292 415.6L243 415.8L226 416.6L209 416.6L198 415.8L150.9 415.6L148 414.8L139 414.6L137 413.8L128 413.6L126 412.8L117.8 412.6L116 411.8L109 411.6L107 410.8L100 410.6L99 409.9L92 409.6L90 408.7L78 408.6L74 407.7L61.3 407.6L59 406.9L-2 406.6L-2 350.6ZM168 503.6L200 502.7L231 503.1L271 505.2L357 511.4L387 512.3L431 512.4L431 568.6L-2 568.6L-2 512.4L29 512.4L56 511.4L138 505.3Z"/>
<path fill="#2033ff" fill-rule="evenodd" d="M-1 350.6L431 350.6L431 405.9L368 406.5L278 410.4L214 411L152 409.9L122 407.1L94 403.5L65 401.7L-2 401.1L-2 350.6ZM182 507.6L214 507.1L234 507.7L276 510.4L335 516L356 517.5L390 518.7L431 518.7L431 568.6L-2 568.6L-2 518.7L36 518.7L55 517.8L92 515L149 509.4Z"/>
<path fill="#2244ff" fill-rule="evenodd" d="M-1 350.6L431 350.6L431 400.8L364 401.3L276 405.4L214 406L153 404.8L125 402L98 398.4L71 396.6L43 396L-2 396L-2 350.6ZM187 512.6L215 512L247 513.5L276 515.8L331 522L362 524.2L384 524.9L431 524.9L431 568.6L-2 568.6L-2 524.9L45 524.9L67.8 523.6L97 520.9L152.2 514.6Z"/>
<path fill="#3366ff" fill-rule="evenodd" d="M-1 350.6L431 350.6L431 395.5L379.8 395.6L344.6 396.6L274 400.3L214 400.8L154 399.5L131 397.1L106 393.6L78.7 391.6L-2 391.1L-2 350.6ZM180 517.6L214 516.7L246 518.2L273 520.3L329.7 526.6L357 528.3L378 529L431 529L431 568.6L-2 568.6L-2 529L51 529L65 528.3L97.6 525.6L154 519.2Z"/>
<path fill="#4ac8ff" fill-rule="evenodd" d="M-1 350.6L431 350.6L431 392.9L354 393.5L272 397.5L214 398.1L157 396.9L131 394.1L106 390.6L82 389.1L56 388.5L-2 388.5L-2 350.6ZM188 520.6L215 520L244 521.4L272 523.6L323 529.6L355 531.9L371 532.4L431 532.4L431 568.6L-2 568.6L-2 532.4L62 532.2L100 529L156 522.5Z"/>
<path fill="#66ffee" fill-rule="evenodd" d="M-1 350.6L431 350.6L431 390.8L361 391.1L271 395.3L214 395.9L158 394.8L129 391.6L109 388.7L85 387L-2 386.5L-2 350.6ZM183 523.6L214 522.7L239 523.9L270 526.4L319 532.2L349 534.2L367 534.7L431 534.7L431 568.6L-2 568.6L-2 534.7L62 534.7L72 534.2L108 531.2L158 525.3Z"/>
<path fill="#66ffa0" fill-rule="evenodd" d="M-1 350.6L431 350.6L431 387.8L371 387.8L338.7 388.6L270 392.2L214 392.7L159 391.5L136 389L112.7 385.6L90 384.1L65 383.5L-2 383.5L-2 350.6ZM195 525.6L215 525.2L253 527.3L270 528.8L323 534.9L358 538L431 538.1L431 568.6L-2 568.6L-2 538.1L70 538L155 528Z"/>
<path fill="#66ff44" fill-rule="evenodd" d="M-1 350.6L431 350.6L431 385.6L367 385.6L332.3 386.6L268 390L214 390.5L161 389.4L138 386.8L116 383.6L93 381.9L70 381.4L-2 381.4L-2 350.6ZM189 527.6L219 527.1L242 528.4L267 530.4L284.6 532.6L313 538.1L349 542.6L431 542.6L431 568.6L-2 568.6L-2 542.6L80 542.6L115 537L136 532.7L148.9 530.6L165 529Z"/>
<path fill="#5cff10" fill-rule="evenodd" d="M-1 350.6L431 350.6L431 383.7L347 384L277 387.6L210 388.6L162 387.6L136.7 384.6L120 381.9L96 380L-2 379.6L-2 350.6ZM193 529.6L215 528.8L237 530.2L263 533L282.9 536.6L306 542.2L336 547L431 547.1L431 568.6L-2 568.6L-2 547.1L92 547L122 541.1L138 536.9L155 533.4L169 531.5Z"/>
<path fill="#5cff10" fill-rule="evenodd" d="M-1 350.6L431 350.6L431 379.4L342 379.6L264 383.5L214 384.1L165 383L124.5 377.6L104 376.4L-2 376.1L-2 350.6ZM201 532.6L214 532L221 532.4L241 534.2L263 536.9L282 541.3L299 546.4L323 551.6L431 551.6L431 568.6L-2 568.6L-2 551.6L106 551.6L129 545.3L143.7 540.6L160.9 536.6L178 534.4Z"/>
<path fill="#5cff10" fill-rule="evenodd" d="M-1 350.6L431 350.6L431 376.3L344 376.4L305 377.6L261 380L214 380.5L168 379.5L129 374.8L110 373.8L-2 373.4L-2 350.6ZM212 535.6L234 537.1L261 540.7L278.6 545.6L291 550.6L311 554.8L431 554.9L431 568.6L-2 568.6L-2 554.9L118 554.8L133.7 550.6L151.6 543.6L167 539.7L189 537.1Z"/>
<path fill="#66ff14" fill-rule="evenodd" d="M-1 350.6L431 350.6L431 373.3L336 373.4L300 374.4L259 376.5L214 377L171 376.1L135 372.1L115 371.1L-2 370.9L-2 350.6ZM204 539.6L214 539L220 539.4L239 541.5L257 544.2L268.2 547.6L294.6 557.6L298 558.2L431 558.2L431 568.6L-2 568.6L-2 558.2L131 558.1L133.8 557.6L139.1 554.6L156.4 547.6L169.1 543.6L185 541.3Z"/>
<path fill="#8cff00" fill-rule="evenodd" d="M-1 350.6L431 350.6L431 370.4L317.6 370.6L256 373.2L214 373.5L174 372.8L143 369.6L123 368.5L-2 368.4L-2 350.6ZM212 542.6L215 542.5L231 544.2L255 548.1L268.7 552.6L278 558.6L279.1 560.6L281 561.2L431 561.4L431 568.6L-2 568.6L-2 561.4L147 561.3L149.4 560.6L149 558.6L155 553.5L158.4 551.6L166 549L174 546.9L185 545.2Z"/>
<path fill="#b2ff00" fill-rule="evenodd" d="M-1 350.6L431 350.6L431 368.3L321 368.3L253 370.7L215 371L176 370.3L146 367.5L129 366.8L-2 366.6L-2 350.6ZM203 546.5L215 545.9L245.9 549.6L252 550.8L257 552.6L262 555.1L264.6 557.6L265.1 560.6L264.2 561.6L257 564L250.4 564.6L252 565.1L431 565.1L431 568.6L-2 568.6L-2 565.1L177 565.1L178.5 564.6L172 564.1L163.7 561.6L162 560.6L162.2 556.6L164.4 554.6L167 553.1L176 549.8Z"/>
<path fill="#f0ff1a" fill-rule="evenodd" d="M-1 350.6L431 350.6L431 366.5L317 366.5L251 368.5L215 368.8L178 368.2L149 365.8L132 365.2L-2 365.1L-2 350.6ZM211 548.6L215 548.4L227 549.7L248 553.5L254.4 556.6L256 558.5L256.2 559.6L253.9 561.6L250 563.2L242.7 564.6L227 566.3L207 566.4L198 566L179.9 563.6L174 561.7L170.8 559.6L170.5 558.6L171 557.4L172.9 555.6L180 552.5L195 550.1Z"/>
<path fill="#ffa200" fill-rule="evenodd" d="M-1 350.6L431 350.6L431 364.7L309 364.7L248 366.3L215 366.5L181 366L139 363.6L-2 363.5L-2 350.6ZM208 551.6L215 551.1L236 554.2L245 556.5L247.8 558.6L248.2 559.6L246.9 561.6L245.1 562.6L236.9 564.6L226 566L214 566.3L203 566L191.7 564.6L183 562.6L180.6 561.6L178.8 559.6L178.7 558.6L179.4 557.6L184 555.2L195 553.1Z"/>
<path fill="#ff5800" fill-rule="evenodd" d="M-1 350.6L431 350.6L431 363L301 363.1L215 364.5L184 364.1L143 362.2L-2 362.1L-2 350.6ZM206 554.5L215 553.8L226 555.4L236.2 557.6L240 559.2L240.6 560.6L240.3 561.6L238.8 562.6L232.5 564.6L224 565.8L214 566.1L205 565.8L196 564.6L189.3 562.6L186.5 560.6L187.2 558.6L189.3 557.6L196 556Z"/>
<path fill="#ff2000" fill-rule="evenodd" d="M-1 350.6L431 350.6L431 361.4L296 361.4L215 362.5L186 362.1L149 360.8L-2 360.7L-2 350.6ZM213 556.5L218 556.9L228 559.2L231.6 560.6L232.4 561.6L232.3 562.6L228.3 564.6L223.4 565.6L212 565.9L205.3 565.6L200.1 564.6L195.4 562.6L194.8 561.6L195.4 560.6L199 559Z"/>
<path fill="#ff0000" fill-rule="evenodd" d="M-1 350.6L431 350.6L431 359.2L285 359.2L215 359.8L155 358.8L-2 358.8L-2 350.6ZM214 559.5L221 561.7L223.1 563.6L222.6 564.6L219.9 565.6L208.7 565.6L205.4 564.6L204.7 563.6L207.2 561.6Z"/>
<path d="M260.5 359.4h0M158.5 395.8h0M167.2 381.2h0M219.7 354.4h0M242.4 370.6h0M253.4 382.2h0M177.0 552.1h0M310.8 551.7h0M180.1 545.1h0M211.3 532.6h0M210.8 528.3h0M260.0 371.3h0M206.1 372.5h0M201.3 354.1h0M253.9 358.8h0M137.8 368.5h0M269.4 360.2h0M199.5 561.7h0M256.5 536.0h0M214.6 384.6h0M165.2 523.6h0M283.5 360.9h0M310.0 382.3h0M145.7 519.9h0M185.5 356.0h0M295.0 363.9h0M200.3 376.5h0M180.3 372.0h0M269.5 384.8h0M221.0 546.7h0M222.9 529.9h0M308.2 551.2h0M217.3 545.4h0M142.2 366.8h0M152.1 369.4h0M223.9 358.6h0M283.0 367.8h0M179.0 534.8h0M246.8 536.0h0M244.6 553.0h0M142.3 536.7h0M247.9 535.6h0M144.1 388.3h0M146.5 363.5h0M318.6 369.9h0M322.8 530.0h0M132.0 397.6h0M296.1 378.1h0M155.1 384.6h0M373.0 392.0h0M268.3 543.3h0M268.9 518.6h0M248.2 555.3h0M214.3 535.1h0M235.1 538.9h0M64.2 391.2h0M273.7 383.3h0M150.0 539.8h0M205.0 378.3h0M218.5 408.5h0M256.8 507.2h0M205.1 534.8h0M214.1 373.4h0M92.1 524.2h0M173.4 388.6h0M253.1 534.7h0M149.2 377.8h0M164.7 385.1h0M105.8 550.9h0M220.1 538.8h0M133.2 366.0h0M107.9 551.5h0M300.9 404.3h0M262.3 373.1h0M248.2 542.0h0M60.4 387.8h0M145.9 385.9h0M200.1 516.4h0M232.2 393.4h0M98.7 395.9h0M162.9 362.4h0M203.5 543.2h0M291.5 369.5h0M264.5 526.9h0M326.6 374.0h0M142.8 380.9h0M301.2 373.4h0M163.8 377.7h0M103.6 383.7h0M216.6 526.7h0M218.9 393.7h0M238.8 377.4h0M251.1 525.0h0M325.1 547.1h0M147.5 539.4h0M169.1 549.7h0M218.6 401.7h0M200.5 539.7h0M161.9 528.2h0M142.1 528.3h0M239.1 358.4h0M172.6 382.6h0M132.1 532.7h0M255.9 406.7h0M221.8 530.5h0M224.9 530.4h0M332.3 373.0h0M324.1 538.9h0M121.9 394.4h0M316.2 399.2h0M189.7 365.3h0M133.5 554.0h0M317.7 369.5h0M311.8 376.6h0M296.7 369.1h0M257.3 546.4h0M225.3 548.2h0M163.5 377.8h0M189.1 392.5h0M268.2 562.0h0M157.0 539.9h0M284.2 371.8h0M176.6 363.1h0M204.8 364.9h0M323.2 532.9h0M323.1 549.7h0M255.3 539.4h0M284.8 551.9h0M190.3 537.1h0M230.6 360.2h0M111.1 385.2h0M232.8 563.2h0M325.0 403.5h0M85.6 379.1h0M132.8 544.8h0M148.7 368.2h0M255.4 531.3h0M137.0 515.8h0M180.0 393.6h0M141.0 545.5h0M289.4 547.1h0M239.2 533.4h0M195.8 552.5h0M315.3 380.1h0M321.8 535.8h0M189.8 547.4h0M214.9 378.9h0M165.9 529.8h0M130.9 513.7h0M175.4 535.4h0M127.7 553.6h0M227.2 527.5h0M225.7 545.8h0M101.0 526.9h0M203.3 354.8h0M188.9 559.6h0M226.3 547.6h0M230.8 356.3h0M339.5 388.3h0M149.2 540.2h0M272.8 367.9h0M238.3 551.0h0M218.9 367.0h0M225.2 551.4h0M63.6 521.5h0M156.0 366.1h0M160.1 529.8h0M229.2 558.1h0M258.9 547.4h0M290.4 362.6h0M148.9 404.5h0M307.4 390.5h0M104.8 550.3h0M179.0 405.5h0M100.5 532.2h0M220.5 370.5h0M145.5 379.6h0M216.9 388.3h0M176.5 400.4h0M263.3 366.8h0M177.8 373.9h0M221.2 546.3h0M143.0 380.6h0M115.8 531.8h0M311.8 547.3h0M226.2 557.9h0M135.9 389.3h0M340.3 534.8h0M166.7 538.9h0M205.2 517.0h0M136.2 372.6h0M153.3 365.2h0M218.0 386.6h0M143.7 536.9h0M117.4 371.3h0M218.5 546.8h0M211.0 367.2h0M174.1 540.6h0M53.2 527.0h0M265.5 379.5h0M218.2 356.5h0M276.9 531.8h0M244.0 403.1h0M75.5 533.2h0M112.6 549.1h0M188.8 371.3h0M160.0 360.3h0M234.6 531.6h0M163.5 385.3h0M258.2 505.3h0M221.4 360.0h0M327.0 373.8h0M331.4 387.5h0M92.8 526.1h0M233.2 371.0h0M216.9 394.5h0M283.4 552.7h0M226.4 527.6h0M301.3 542.4h0M145.2 542.2h0M259.3 363.3h0M189.3 406.4h0M242.0 366.6h0M291.4 527.9h0M246.5 520.3h0M264.1 509.9h0M223.1 529.5h0M228.5 536.6h0M256.0 513.8h0M175.8 388.6h0M132.9 368.4h0M302.3 378.8h0M139.1 367.4h0M236.7 563.6h0M141.9 529.8h0M285.1 523.0h0M144.1 381.7h0M336.4 519.1h0M299.7 367.7h0M310.1 523.4h0M246.9 511.3h0M108.1 525.4h0M244.8 373.4h0M190.0 508.3h0M265.4 363.5h0M189.2 524.0h0M199.6 525.8h0M240.3 371.9h0M202.7 534.8h0M265.3 385.1h0M284.5 399.4h0M167.5 543.5h0M226.8 547.8h0M216.0 552.2h0M209.6 528.8h0M139.4 524.7h0M302.4 367.5h0M182.7 387.7h0M221.4 541.6h0M254.7 543.2h0M217.8 386.4h0M176.5 552.4h0M136.8 536.9h0M110.9 541.3h0M170.2 535.3h0M277.4 553.3h0M187.5 546.5h0M131.7 506.5h0M122.8 398.3h0M271.4 528.1h0M238.8 358.4h0M217.1 382.9h0M246.5 362.0h0M207.0 358.6h0M273.5 533.9h0M293.4 396.3h0M348.6 533.6h0M180.6 559.9h0M132.4 383.6h0M226.4 357.4h0M264.4 535.8h0M177.7 518.9h0M115.4 382.9h0M269.2 532.3h0M242.2 366.0h0M229.6 387.6h0M257.0 399.1h0M219.6 374.2h0M315.6 386.9h0M184.0 549.1h0M200.9 558.9h0M205.1 399.1h0M113.8 369.3h0M219.0 409.3h0M201.6 386.9h0M273.2 395.3h0M192.5 546.6h0M106.5 538.4h0M207.0 360.5h0M287.1 531.7h0M327.0 383.7h0M310.2 536.4h0M193.1 549.7h0M300.1 546.9h0M256.8 555.2h0M272.1 541.3h0M160.3 529.0h0M198.9 547.9h0M281.9 537.8h0M232.3 393.5h0M251.7 539.1h0M174.6 359.4h0M184.6 552.5h0M286.5 536.8h0M245.1 394.3h0M189.8 560.3h0M199.9 552.1h0M186.5 513.0h0M222.8 533.5h0M240.8 561.2h0M228.6 518.5h0M271.8 395.5h0M152.2 373.5h0M151.9 531.5h0M169.2 388.1h0M164.6 392.2h0M155.7 542.0h0M126.3 529.8h0M312.8 519.1h0M193.6 527.9h0M211.6 530.2h0M92.7 524.1h0M274.5 370.3h0M254.6 534.2h0M228.4 562.4h0M307.0 380.1h0M119.0 525.4h0M136.9 393.0h0M342.7 515.2h0M270.8 363.1h0M224.3 561.0h0M145.0 528.7h0M342.1 526.7h0M80.1 398.1h0M276.4 370.0h0M274.1 552.6h0M201.1 529.5h0M339.6 533.6h0M301.4 392.4h0M222.1 561.1h0M303.9 388.0h0M206.9 370.8h0M274.7 539.0h0M84.3 532.4h0M188.2 530.9h0M281.3 360.7h0M100.0 386.4h0M205.6 560.8h0M284.0 530.9h0M127.1 537.9h0M251.0 537.6h0M283.9 526.4h0M201.5 538.1h0M167.7 543.0h0M218.4 547.0h0M235.6 380.3h0M313.0 531.5h0M201.0 513.1h0M207.7 562.4h0M257.0 360.7h0M227.7 565.9h0M353.3 540.5h0M115.9 542.8h0M283.1 367.4h0M314.0 387.5h0M301.4 553.5h0M348.7 402.2h0M118.8 386.9h0M302.3 535.7h0M166.0 383.7h0M266.0 562.3h0M195.4 403.8h0M225.0 375.6h0M166.1 561.5h0M189.2 522.1h0M248.7 554.7h0M276.4 537.7h0M208.6 553.5h0M205.4 365.4h0M184.3 533.3h0M173.9 555.8h0M137.1 547.3h0M240.3 540.8h0M133.4 377.7h0M123.1 532.4h0M232.8 564.4h0M195.5 542.1h0M300.7 373.7h0M280.7 395.4h0M247.1 362.8h0M182.4 394.4h0M197.6 366.8h0M267.2 547.8h0M162.5 545.4h0M331.5 526.2h0M191.6 393.9h0M93.1 388.4h0M188.8 511.4h0M239.9 544.9h0M204.4 400.3h0M312.9 374.3h0M269.0 534.9h0M267.1 403.5h0M305.1 386.2h0M309.9 366.8h0M190.0 369.1h0M248.2 525.6h0M189.7 523.0h0M269.5 556.7h0M228.4 515.8h0M245.6 551.6h0M183.9 541.7h0M208.1 561.4h0M157.2 534.3h0M233.1 357.9h0M378.7 396.7h0M217.3 520.8h0M255.3 517.1h0M166.9 518.8h0M120.6 369.2h0M367.9 406.3h0M261.0 563.3h0M150.7 508.6h0M293.2 388.2h0M220.8 543.1h0M327.1 394.1h0M133.1 374.5h0M268.6 377.0h0M253.7 359.8h0M193.2 558.0h0M177.1 377.7h0M138.6 545.9h0M335.1 383.2h0M348.9 518.5h0M212.2 364.6h0M211.4 563.0h0M150.6 553.7h0M230.3 378.8h0M226.4 384.0h0M184.0 542.5h0M310.9 519.9h0M116.4 369.9h0M71.1 401.6h0M224.8 532.3h0M180.6 386.3h0M269.5 537.8h0M185.2 390.2h0M141.6 365.5h0M226.2 529.0h0M185.7 562.7h0M223.7 365.8h0M222.2 357.3h0M217.5 546.5h0M197.9 404.2h0M324.1 383.5h0M230.1 358.4h0M202.4 408.9h0M236.0 371.6h0M225.9 542.8h0M278.2 543.7h0M233.2 383.9h0M161.0 554.7h0M203.3 545.0h0M168.2 543.8h0M182.7 380.8h0M209.8 561.2h0M205.2 553.9h0M125.8 385.9h0M270.5 376.6h0M325.7 536.5h0M315.3 384.0h0M151.4 394.8h0M329.9 383.4h0M155.4 385.8h0M141.5 522.8h0M96.3 547.5h0M211.7 530.8h0M104.9 379.9h0M206.5 509.9h0M142.0 549.6h0M267.7 388.0h0M209.9 354.5h0M205.2 529.0h0M267.8 363.1h0M371.8 389.6h0M162.2 370.9h0M301.8 523.4h0M204.0 564.3h0M203.2 384.5h0M198.1 378.3h0M355.0 534.6h0M212.6 388.2h0M174.2 541.7h0M287.0 532.5h0M185.4 562.7h0M186.6 380.2h0M178.8 358.2h0M211.8 559.7h0M271.6 521.3h0M126.6 376.3h0M253.0 368.4h0M230.4 394.5h0M143.6 551.1h0M232.4 368.4h0M175.2 556.8h0M252.7 364.5h0M253.8 388.2h0M241.8 560.7h0M326.7 548.5h0M222.5 367.7h0M175.4 397.1h0M264.6 516.4h0M273.9 533.7h0M245.8 556.3h0M66.1 385.9h0M334.8 380.0h0M221.7 562.9h0M253.8 360.6h0M287.9 374.0h0M216.0 508.8h0M112.2 546.4h0M266.5 558.4h0M297.7 517.1h0M222.0 364.0h0M68.9 527.0h0M165.6 390.0h0M207.0 368.5h0M260.2 361.3h0M271.5 382.5h0M150.8 376.3h0M251.3 405.0h0M255.6 552.0h0M259.0 386.4h0M179.7 516.1h0M334.6 387.7h0M270.6 561.1h0M206.7 399.2h0M309.1 378.3h0M210.9 370.6h0M218.9 536.1h0M261.6 536.5h0M239.1 556.6h0M206.3 543.0h0M281.7 542.3h0M167.8 379.7h0M247.9 400.3h0M254.1 382.3h0M286.3 387.0h0M95.8 532.5h0M247.3 375.9h0M229.3 540.7h0M187.8 552.3h0M209.6 375.5h0M121.0 382.5h0M310.5 377.0h0M234.4 378.4h0M243.0 556.2h0M143.9 530.5h0M244.5 366.5h0M258.4 368.4h0M185.5 551.7h0M155.7 542.8h0M229.6 543.6h0M255.0 534.6h0M172.7 530.9h0M107.0 380.5h0M321.1 523.4h0M213.0 378.8h0M172.5 395.6h0M114.1 546.7h0M239.9 554.4h0M194.0 382.5h0M169.9 384.6h0M254.8 364.2h0M296.9 377.0h0M368.4 400.2h0M249.9 550.9h0M174.6 410.2h0M376.1 529.0h0M180.6 556.4h0M334.8 375.9h0M340.0 533.7h0M238.2 371.0h0M253.8 522.7h0M197.1 520.3h0M189.1 540.9h0M279.6 359.5h0M211.4 359.4h0M319.1 521.2h0M142.6 525.2h0M169.1 535.4h0M263.9 548.1h0M146.0 361.3h0M272.7 395.3h0M281.3 541.5h0M121.5 375.0h0M334.4 533.5h0M313.2 386.8h0M181.1 547.2h0M260.8 410.7h0M183.5 556.3h0M121.1 393.6h0M171.6 540.7h0M258.5 520.2h0M337.2 384.5h0M116.2 538.8h0M320.8 406.0h0M197.2 356.5h0M204.6 526.0h0M176.0 558.3h0M335.0 516.3h0M219.3 366.4h0M209.7 562.4h0M250.0 530.1h0M238.6 374.1h0M216.9 560.6h0M102.3 539.4h0M251.1 558.7h0M176.4 365.9h0M225.9 532.9h0M230.0 355.2h0M211.3 548.5h0M338.5 388.5h0M237.3 403.2h0M216.1 375.2h0M221.0 547.2h0M196.7 358.1h0M298.5 546.5h0M260.6 553.7h0M300.7 387.1h0M274.2 378.8h0M233.6 372.5h0M69.5 537.3h0M185.9 549.7h0M216.9 533.1h0M169.5 525.8h0M253.1 552.1h0M169.6 560.7h0M121.9 555.0h0M230.9 523.2h0M152.9 401.6h0M328.4 390.1h0M126.4 394.4h0M271.7 553.0h0M286.4 395.0h0M146.5 537.0h0M282.1 391.5h0M343.1 387.2h0M229.4 367.8h0M215.2 373.9h0M232.4 545.6h0M232.7 556.5h0M190.0 519.3h0M201.6 355.2h0M88.5 525.9h0M150.4 533.0h0M265.8 372.5h0M84.4 377.2h0M245.1 398.0h0M209.4 566.1h0M57.1 516.4h0M152.4 375.8h0M258.6 547.7h0M145.7 539.0h0M280.5 393.6h0M224.7 558.2h0M326.3 521.7h0M216.1 561.2h0M215.1 547.4h0M259.3 527.3h0M275.9 528.6h0M250.9 555.1h0M123.4 532.7h0M189.8 550.9h0M197.9 521.8h0M291.6 381.8h0M141.9 527.4h0M292.8 526.3h0M169.2 521.6h0M340.1 402.5h0M148.5 552.9h0M248.1 542.9h0M230.8 379.0h0M194.4 387.3h0M103.3 372.1h0M153.0 547.8h0M159.3 358.9h0M201.6 532.2h0M266.9 542.2h0M71.2 534.5h0M141.7 376.0h0M252.0 553.5h0M127.0 555.0h0M141.5 366.7h0M184.5 540.8h0M187.4 544.1h0M200.9 383.4h0M234.1 536.7h0M309.7 377.3h0M293.3 554.4h0M246.1 531.7h0M189.9 519.1h0M174.6 377.6h0M261.7 553.9h0M155.0 382.2h0M267.1 518.9h0M216.3 507.7h0M188.9 379.1h0M223.0 357.6h0M132.4 375.5h0M198.8 372.1h0M170.1 510.8h0M253.5 542.1h0M177.2 361.5h0M85.1 523.4h0M120.6 508.6h0M247.4 385.5h0M220.7 549.2h0M186.1 563.0h0M229.5 529.7h0M157.4 519.5h0M121.4 555.6h0M211.8 564.5h0M221.6 563.0h0M242.5 557.0h0M256.5 530.0h0M343.6 378.8h0M269.8 554.7h0M208.7 508.2h0M210.7 548.2h0M141.3 376.5h0M98.2 530.8h0M107.8 543.2h0M202.5 396.8h0M198.9 546.2h0M266.5 525.7h0M185.8 565.2h0M147.8 532.9h0M81.5 512.3h0M152.5 546.8h0M211.6 542.4h0M269.6 373.1h0M282.7 528.1h0M349.1 402.7h0M338.1 534.4h0M276.4 553.2h0M147.2 508.5h0M246.4 376.5h0M105.3 379.4h0M147.4 368.0h0M300.3 530.2h0M191.3 548.8h0M287.3 534.6h0M189.5 358.6h0M231.8 542.7h0M214.0 532.5h0M224.7 542.9h0M169.7 367.0h0M248.3 542.6h0M241.9 389.7h0M271.6 393.6h0M141.9 527.6h0M107.7 521.0h0M220.8 357.3h0M193.7 374.3h0M272.0 529.8h0M202.5 365.9h0M253.1 384.0h0M199.7 549.1h0M227.0 381.8h0M247.8 400.6h0M355.1 391.2h0M124.6 388.7h0M318.9 510.1h0M116.7 542.6h0M153.3 397.0h0M222.5 548.2h0M240.4 371.9h0M258.9 401.4h0M285.0 560.3h0M227.7 378.9h0M220.2 392.9h0M90.3 391.0h0M212.5 532.4h0M354.4 389.7h0M239.3 510.5h0M118.9 381.9h0M195.5 549.7h0M205.8 544.3h0M170.4 543.2h0M200.2 380.5h0M263.0 367.3h0M241.8 549.0h0M282.7 380.7h0M131.5 534.2h0M282.0 377.7h0M252.8 370.5h0M343.4 523.2h0M226.6 398.7h0M121.4 378.9h0M169.0 535.1h0M151.2 557.6h0M252.0 391.6h0M286.6 547.8h0M157.6 535.3h0M251.0 539.2h0M142.4 552.9h0M136.2 547.5h0M146.8 536.1h0M240.9 527.8h0M160.3 380.6h0M177.1 560.8h0M119.4 548.5h0M281.5 550.4h0M261.7 555.9h0M160.6 364.4h0M167.7 404.2h0M137.3 548.3h0M81.0 396.0h0M209.4 373.5h0M237.3 362.2h0M267.3 510.0h0M302.2 385.6h0M112.9 538.6h0M208.5 542.9h0M195.8 357.3h0M133.3 513.3h0M185.2 373.4h0M157.1 539.7h0M219.8 379.9h0M274.0 552.8h0M137.5 369.0h0M171.9 384.7h0M268.3 379.6h0M217.4 530.6h0M151.0 386.9h0M189.0 395.0h0M232.1 362.5h0M185.8 519.8h0M293.7 373.4h0M194.5 373.8h0M233.2 369.2h0M83.9 383.0h0M281.8 541.2h0M247.6 365.9h0M137.8 508.3h0M205.7 390.4h0M131.4 400.9h0M304.1 379.6h0M81.6 519.6h0M136.0 381.2h0M242.7 551.9h0M237.1 396.7h0M155.3 369.6h0M268.5 542.8h0M263.0 398.6h0M254.2 556.0h0M175.7 362.6h0M288.1 371.0h0M346.0 381.4h0M266.3 362.5h0M311.7 409.0h0M252.8 512.9h0M149.6 375.1h0M166.9 387.3h0M237.2 379.2h0M212.5 376.6h0M327.3 385.9h0M229.0 518.8h0M184.7 527.6h0M327.0 385.6h0M225.6 395.1h0M202.8 537.9h0M229.1 368.5h0M295.0 374.7h0M227.1 396.9h0M258.3 362.6h0M264.4 378.8h0M131.1 384.2h0M248.2 514.6h0M248.6 519.8h0M239.4 360.9h0M311.9 543.6h0M317.9 538.0h0M144.4 547.5h0M207.5 547.4h0M303.9 535.9h0M220.1 386.4h0M112.0 374.2h0M257.5 407.3h0M345.6 391.1h0M205.3 383.3h0M246.1 383.4h0M110.7 396.4h0M227.2 364.3h0M122.9 541.0h0M306.6 535.3h0M185.9 384.2h0M171.0 537.4h0M342.2 382.3h0M224.8 368.8h0M205.2 373.0h0M134.4 395.3h0M158.5 395.9h0M216.8 403.9h0M210.2 554.1h0M113.2 548.6h0M218.4 387.6h0M191.0 384.8h0M290.8 548.1h0M98.8 549.0h0M110.1 368.7h0M156.5 523.2h0M146.8 528.0h0M334.9 392.5h0M270.7 543.2h0M236.4 550.7h0M159.3 400.2h0M329.5 544.4h0M228.7 403.7h0M120.0 374.4h0M148.8 555.0h0M255.6 381.5h0M219.5 549.0h0M267.6 358.9h0M177.6 554.0h0M206.6 359.9h0M170.5 394.4h0M122.0 552.0h0M226.6 403.4h0M175.3 397.2h0M210.1 553.0h0M199.0 527.7h0M207.3 557.1h0M114.8 398.5h0M215.8 381.6h0M217.8 376.6h0M230.5 398.3h0M72.7 400.4h0M272.6 526.6h0M165.2 363.8h0M240.9 519.0h0M212.2 553.1h0M236.8 526.0h0M236.1 374.9h0M283.1 533.4h0M291.1 549.4h0M339.4 405.6h0M270.1 534.8h0M330.1 381.4h0M284.2 556.6h0M333.3 380.3h0M242.8 555.3h0M234.7 369.1h0M223.8 366.0h0M131.7 525.2h0M215.0 355.8h0M258.4 391.6h0M230.5 560.7h0M216.7 558.1h0M203.0 533.9h0M224.8 507.7h0M261.8 524.4h0M237.8 370.8h0M274.7 385.4h0M174.8 357.0h0M258.6 535.7h0M169.2 561.3h0M291.7 524.6h0M99.3 527.7h0M232.1 382.1h0M215.8 534.9h0M87.2 539.5h0M132.9 388.9h0M100.3 378.8h0M213.3 533.1h0M292.3 545.2h0M214.9 554.6h0M217.7 542.3h0M221.1 402.5h0M291.4 545.3h0M173.5 363.3h0M154.1 551.9h0M184.5 554.1h0M278.1 540.3h0M142.8 510.0h0M237.7 560.9h0M202.2 356.8h0M225.1 538.0h0M179.3 374.3h0M312.7 370.4h0M314.3 399.7h0M246.7 545.6h0M186.6 396.3h0M235.8 526.3h0M236.8 377.3h0M183.5 545.3h0M153.9 531.7h0M143.7 381.3h0M249.4 541.7h0M132.5 552.1h0M130.6 511.5h0M283.8 530.8h0M233.8 523.1h0M160.7 554.7h0M150.0 546.6h0M159.2 534.5h0M231.7 509.5h0M193.4 522.8h0M216.3 556.0h0M195.5 531.9h0M281.8 560.6h0M149.8 382.6h0M231.1 366.3h0M252.3 564.2h0M156.3 357.7h0M98.2 519.5h0M187.7 383.0h0M225.9 366.4h0M178.8 371.3h0M252.6 401.9h0M245.0 376.2h0M290.8 541.1h0M238.3 562.8h0M180.0 401.4h0M281.3 378.2h0M148.6 370.4h0M196.2 380.3h0M219.0 550.6h0M219.8 511.9h0M344.5 516.2h0M144.2 368.5h0M106.9 368.9h0M296.6 387.6h0M235.3 382.0h0M157.5 559.2h0M253.3 375.5h0M220.8 528.8h0M272.3 537.3h0M328.8 387.8h0M217.9 382.1h0M247.4 380.2h0M306.8 520.4h0M304.7 403.4h0M304.1 550.6h0M335.9 390.3h0M166.3 389.2h0M176.7 548.1h0M131.8 533.9h0M191.0 381.0h0M157.5 365.1h0M301.1 544.1h0M322.0 524.2h0M197.6 547.4h0M154.2 529.9h0M126.3 538.3h0M237.3 386.8h0M91.7 538.4h0M347.3 529.0h0M173.9 555.4h0M241.4 365.8h0M276.7 524.1h0M187.8 388.2h0M280.9 367.8h0M179.3 524.9h0M159.4 386.3h0M171.1 360.6h0M259.9 362.7h0M318.7 391.2h0M199.4 380.6h0M305.0 528.7h0M125.5 547.0h0M112.3 539.7h0M225.7 372.4h0M140.2 365.9h0M285.6 517.0h0M45.9 397.4h0M284.2 543.9h0M194.5 385.6h0M211.4 387.6h0M255.2 541.2h0M159.5 522.8h0M233.9 538.4h0M181.9 360.5h0M208.8 550.1h0M228.7 376.6h0M237.5 547.5h0M252.9 549.3h0M286.9 374.0h0M132.8 385.9h0M267.9 383.2h0M170.3 542.6h0M236.4 379.2h0M281.5 545.3h0M233.7 384.2h0M150.8 530.1h0M168.6 363.0h0M238.4 361.4h0M275.5 536.4h0M210.6 536.6h0M135.5 372.2h0M312.4 518.5h0M203.6 363.5h0M184.1 558.1h0M110.8 517.8h0M211.3 398.8h0M238.7 520.2h0M312.0 404.3h0M223.3 548.4h0M201.0 552.5h0M62.8 387.1h0M163.2 390.1h0M350.1 532.5h0M267.0 547.2h0M229.6 360.5h0M198.7 543.7h0M177.3 397.3h0M127.8 380.7h0M266.4 394.3h0M125.6 514.6h0M103.0 544.7h0M165.1 549.3h0M311.2 548.2h0M296.7 519.9h0M161.4 544.9h0M249.2 553.3h0M219.5 527.7h0M208.8 560.0h0M202.5 547.8h0M176.8 359.3h0M191.4 520.9h0M284.9 378.0h0M300.7 556.9h0M341.7 538.6h0M243.8 523.9h0" stroke="#000" stroke-width="4.80" stroke-linecap="round" fill="none"/>
</g>
<ellipse cx="214.5" cy="459.9" rx="214.0" ry="106.3" fill="none" stroke="#111" stroke-width="0.9"/>
<clipPath id="cp2"><ellipse cx="214.5" cy="780.4" rx="213.1" ry="105.5"/></clipPath>
<g clip-path="url(#cp2)">
<rect x="0" y="672.1" width="432" height="216.6" fill="#4530ff"/>
<path fill="#2a33ff" fill-rule="evenodd" d="M-1 671.1L431 671.1L431 751.1L419.4 751.1L417 751.8L408.7 752.1L406 752.8L397.7 753.1L394 753.9L386.6 754.1L384 754.7L374.9 755.1L370 755.9L359.9 756.1L355 756.8L330 757.1L76 756.9L46 754.9L42.4 754.1L34 753.8L31.3 753.1L23 752.8L20.3 752.1L12 751.8L9.6 751.1L-2 751.1L-2 671.1ZM27 763.8L35 763.2L42 764.8L45 766.4L46.8 768.1L47.7 770.1L47.3 773.1L45.6 775.1L43 776.8L37 778.6L30 778.7L23 776.8L19.4 774.1L18.3 772.1L18.3 770.1L19.2 768.1L21 766.4ZM307 772.1L357 772.5L376 773.7L384.8 775.1L384.3 776.1L383 776.3L370 777.8L352 778.6L320 778.9L288 778.6L270 777.8L257 776.3L255.7 776.1L255.2 775.1L263 773.8L277 772.8ZM104 777.1L124 776.6L207 776.6L245 777.6L264.2 779.1L263.1 780.1L262 780.2L239 781.6L165 782.6L91 781.6L68 780.2L66.9 780.1L65.8 779.1L81 777.8ZM90 797.1L214 796.9L251.6 800.1L285 801.8L331 801.8L367 799.8L401 799.8L424 801.8L431 801.8L431 889.1L-2 889.1L-2 801.8L5 801.8L31 799.5L65 797.5Z"/>
<path fill="#2033ff" fill-rule="evenodd" d="M-1 671.1L431 671.1L431 749.7L413 750.1L359 754.8L329 755.7L99 755.7L70 754.8L16 750.1L-2 749.7L-2 671.1ZM90 800.1L214 800L249 803L284 805L330 805L366 803L400 803L422 804.9L431 805L431 889.1L-2 889.1L-2 805L7 804.9L52 801.5L74 800.3Z"/>
<path fill="#2244ff" fill-rule="evenodd" d="M-1 671.1L431 671.1L431 748.2L417 748.3L414.1 749.1L406 749.3L403.1 750.1L384 751.3L381.2 752.1L372 752.3L369 753.1L357 753.3L354 754.1L329 754.2L75 754.1L72 753.3L60 753.1L57 752.3L47.8 752.1L45 751.3L25.9 750.1L23 749.3L14.9 749.1L12 748.3L-2 748.2L-2 671.1ZM91 803.1L215 803.1L244 805.8L283 808.1L330 808L363 806.1L399 806.1L417 807.9L431 808.1L431 889.1L-2 889.1L-2 808.1L12 807.9L28.9 806.1L60 804.1Z"/>
<path fill="#3366ff" fill-rule="evenodd" d="M-1 671.1L431 671.1L431 738L408 738.1L361 742.8L348 743.6L325 744L89 743.8L56 741.8L21 738.1L-2 738L-2 671.1ZM77 812L101 811.5L214 811.5L255 815.1L282 816.5L326 816.5L362 814.5L394 814.5L415 816.4L431 816.5L431 889.1L-2 889.1L-2 816.5L14 816.4L35 814.4Z"/>
<path fill="#4ac8ff" fill-rule="evenodd" d="M-1 671.1L431 671.1L431 735.3L408 735.3L356.7 740.1L324 741.3L96 741.1L82 740.7L59 739.1L21 735.3L-2 735.3L-2 671.1ZM95 815.1L214 814.9L249.7 818.1L281 819.9L325 819.9L360 817.9L392 817.9L413 819.9L431 819.9L431 889.1L-2 889.1L-2 819.9L16 819.9L57 816.4L79 815.2Z"/>
<path fill="#66ffee" fill-rule="evenodd" d="M-1 671.1L431 671.1L431 732L405 732L364.4 736.1L345 737.5L323 738L105 738L84 737.5L64 736.1L24 732L-2 732L-2 671.1ZM79 817.1L214 816.8L247 819.8L280 821.8L324 821.8L358 819.9L390 819.8L412 821.8L431 821.8L431 889.1L-2 889.1L-2 821.8L18 821.8L46.3 819.1Z"/>
<path fill="#66ffa0" fill-rule="evenodd" d="M-1 671.1L431 671.1L431 728.6L402 728.6L357.8 733.1L343 734.2L321 734.6L107 734.6L86 734.2L71.2 733.1L27 728.6L-2 728.6L-2 671.1ZM97 820.1L214 820L247 823L280 825L322 825L357 823L389 823L409 825L431 825L431 889.1L-2 889.1L-2 825L20 825L61 821.5L82 820.3Z"/>
<path fill="#66ff44" fill-rule="evenodd" d="M-1 671.1L431 671.1L431 723.6L396 723.6L353.9 728.1L340 729.2L318 729.6L110 729.6L89 729.2L75.1 728.1L33 723.6L-2 723.6L-2 671.1ZM76 824.1L106 823.3L214 823.3L247 826.4L278 828.3L320 828.3L354 826.3L385 826.3L406 828.3L431 828.3L431 889.1L-2 889.1L-2 828.3L23 828.3L45.7 826.1Z"/>
<path fill="#5cff10" fill-rule="evenodd" d="M-1 671.1L431 671.1L431 717.7L387 717.7L341 722.7L314 723.7L114 723.7L92 722.9L77 721.8L42 717.7L-2 717.7L-2 671.1ZM82 828.1L108 827.5L214 827.5L246 830.5L277 832.5L318 832.5L352 830.5L382 830.5L401 832.5L431 832.5L431 889.1L-2 889.1L-2 832.5L28 832.5L47 830.5Z"/>
<path fill="#5cff10" fill-rule="evenodd" d="M-1 671.1L431 671.1L431 714.3L382 714.3L342.6 719.1L308 720.9L116 720.6L86.4 719.1L47 714.3L-2 714.3L-2 671.1ZM104 832.1L214 832L245 835L275 837L315 837.1L346 835.1L377 835.1L395 837L431 837.1L431 889.1L-2 889.1L-2 837.1L34 837L50.6 835.1L76.9 833.1Z"/>
<path fill="#5cff10" fill-rule="evenodd" d="M-1 671.1L431 671.1L431 704L363.4 704.1L352 710.8L344 713.5L329 717L308 719.8L215 717.6L128 719.2L101 716.4L86 713.4L77 710.8L65 704L-2 704L-2 671.1ZM108 837.1L214 837L263 841.3L272 843.5L289 846.4L307 847.1L336 846L363 846.9L378 849.4L431 849.4L431 889.1L-2 889.1L-2 848L49 847.9L63 844.4L79 841.3L94 837.3Z"/>
<path fill="#66ff14" fill-rule="evenodd" d="M-1 671.1L431 671.1L431 696.9L347 696.9L346.5 697.1L346.7 702.1L345.8 704.1L343.6 707.1L341 708.7L326 714.7L308 718.9L215 715L130 718L104 713.5L87 707.9L85 706.6L83.2 704.1L82.3 702.1L82.5 697.1L82 696.9L-2 696.9L-2 671.1ZM112 842.1L215 842.1L244.4 845.1L262 846.3L268 849.1L282 854.2L292.5 855.1L324 855L334 855.5L347 856.4L356.4 859.1L359 859.4L431 859.4L431 889.1L-2 889.1L-2 856.9L66 856.8L74 852.7L87 848.3L98 842.5Z"/>
<path fill="#8cff00" fill-rule="evenodd" d="M-1 671.1L431 671.1L431 694.7L343 694.7L342 695.1L343 697.1L343 701.4L341.9 704.1L340 705.8L328 711.1L307 718.1L215 712.5L131 716.6L107.3 711.1L93 707.1L88 705.2L86 701.4L86 697.1L87 695.1L86 694.7L-2 694.7L-2 671.1ZM104 847L261 847.1L272.9 853.1L280 857.7L316.1 861.1L345 864.6L431 864.7L431 889.1L-2 889.1L-2 861.1L75 861L82 858.1L94.1 854.1L100.2 849.1Z"/>
<path fill="#b2ff00" fill-rule="evenodd" d="M-1 671.1L431 671.1L431 684.1L305.3 684.1L308 684.3L308.3 685.1L315 687.5L321 690.7L326.6 695.1L329.2 699.1L326.9 703.1L321.4 708.1L313.5 713.1L306 716.7L215 709L132 714.8L119.1 710.1L111 706.4L104 702.5L99.9 699.1L102.4 695.1L108 690.7L114 687.5L120.7 685.1L121 684.3L123.7 684.1L-2 684.1L-2 671.1ZM109 852.1L258 852L262 855.1L265.8 859.1L268.5 863.1L270 867L292 871.6L300 874.3L304 876.6L431 876.9L431 889.1L-2 889.1L-2 872L104 871.8L105.1 871.1L104.1 869.1L104.4 866.1L107.7 862.1L107.3 857.1Z"/>
<path fill="#f0ff1a" fill-rule="evenodd" d="M-1 671.1L431 671.1L431 679.9L285.7 680.1L289 680.2L289.9 681.1L301 684.1L308.9 687.1L316.2 691.1L320.5 695.1L319.9 699.1L317 703.1L311 708.1L303 712.8L214 705L136 710.9L128 708.1L116 702.1L110.8 698.1L108.5 695.1L112.8 691.1L120.1 687.1L128 684.1L139.1 681.1L140 680.2L143.3 680.1L143 679.9L-2 679.9L-2 671.1ZM119 859.1L254 859.1L257.9 863.1L260 867.1L260 874.1L269.1 877.1L272.1 879.1L272 881.1L266.8 883.1L268 884L431 884.1L431 889.1L-2 889.1L-2 879.1L131 879.1L132 878.1L125.9 875.1L123 872.1L122.8 869.1L120.9 867.1L119 863.5Z"/>
<path fill="#ffa200" fill-rule="evenodd" d="M-1 671.1L431 671.1L431 672.8L-2 672.8L-2 671.1ZM186 675L189 674.4L196 674.2L239 674.3L244 675.3L252 675.6L269 678.1L284 681.1L291 683.1L298.7 686.1L303.6 689.1L305.1 691.1L305.8 694.1L305 697.1L303 700.1L299.9 703.1L296 705.7L275.2 704.1L214 698L142 703.7L136 701.1L131.2 698.1L127 694.2L125.9 692.1L125.9 689.1L128 687.1L135.2 684.1L145 681.1L167 677ZM172 864L175 864.7L183 864.7L184 865.7L187 866L189.4 868.1L186 870.6L183 870.6L182 871.6L162 871.6L161 870.6L158 870.6L154.6 868.1L157 866L160 865.7L161 864.7L169 864.7ZM241 871L248 870.7L250 871.7L253 871.8L254 872.8L255.3 873.1L255.3 875.1L253 876.4L247 876.5L245 877.5L243 876.5L237 876.5L234.5 875.1L235 872.7L236 872.7L237 871.7L240 871.7Z"/>
<path fill="#ff5800" fill-rule="evenodd" d="M196 675L233 674.9L242 676L255.5 679.1L260.2 681.1L264.1 684.1L263 684.7L249.6 683.1L219 678.2L218.9 679.1L220 679.2L221.8 681.1L221.6 683.1L218 685.4L215 685.8L214 686.6L210 686.6L208 687.6L196 687.6L194 686.7L190 686.7L189 685.8L186 685.5L182.2 683.1L182 681.9L175 682.7L173.1 682.1L175.4 680.1L181 677.7ZM215.9 678.1L218.6 678.1L216 677.6ZM250 685.3L264 685.1L265 686.2L268 686.5L271.5 690.1L269 692.6L268 692.6L267 693.6L264 693.6L263 694.6L251 694.5L250 693.6L247 693.5L246 692.6L245 692.6L242.7 690.1L246 686.7L249 686.4Z"/>
<g transform="translate(0,320.5)"><path d="M260.5 359.4h0M158.5 395.8h0M167.2 381.2h0M219.7 354.4h0M242.4 370.6h0M253.4 382.2h0M177.0 552.1h0M310.8 551.7h0M180.1 545.1h0M211.3 532.6h0M210.8 528.3h0M260.0 371.3h0M206.1 372.5h0M201.3 354.1h0M253.9 358.8h0M137.8 368.5h0M269.4 360.2h0M199.5 561.7h0M256.5 536.0h0M214.6 384.6h0M165.2 523.6h0M283.5 360.9h0M310.0 382.3h0M145.7 519.9h0M185.5 356.0h0M295.0 363.9h0M200.3 376.5h0M180.3 372.0h0M269.5 384.8h0M221.0 546.7h0M222.9 529.9h0M308.2 551.2h0M217.3 545.4h0M142.2 366.8h0M152.1 369.4h0M223.9 358.6h0M283.0 367.8h0M179.0 534.8h0M246.8 536.0h0M244.6 553.0h0M142.3 536.7h0M247.9 535.6h0M144.1 388.3h0M146.5 363.5h0M318.6 369.9h0M322.8 530.0h0M132.0 397.6h0M296.1 378.1h0M155.1 384.6h0M373.0 392.0h0M268.3 543.3h0M268.9 518.6h0M248.2 555.3h0M214.3 535.1h0M235.1 538.9h0M64.2 391.2h0M273.7 383.3h0M150.0 539.8h0M205.0 378.3h0M218.5 408.5h0M256.8 507.2h0M205.1 534.8h0M214.1 373.4h0M92.1 524.2h0M173.4 388.6h0M253.1 534.7h0M149.2 377.8h0M164.7 385.1h0M105.8 550.9h0M220.1 538.8h0M133.2 366.0h0M107.9 551.5h0M300.9 404.3h0M262.3 373.1h0M248.2 542.0h0M60.4 387.8h0M145.9 385.9h0M200.1 516.4h0M232.2 393.4h0M98.7 395.9h0M162.9 362.4h0M203.5 543.2h0M291.5 369.5h0M264.5 526.9h0M326.6 374.0h0M142.8 380.9h0M301.2 373.4h0M163.8 377.7h0M103.6 383.7h0M216.6 526.7h0M218.9 393.7h0M238.8 377.4h0M251.1 525.0h0M325.1 547.1h0M147.5 539.4h0M169.1 549.7h0M218.6 401.7h0M200.5 539.7h0M161.9 528.2h0M142.1 528.3h0M239.1 358.4h0M172.6 382.6h0M132.1 532.7h0M255.9 406.7h0M221.8 530.5h0M224.9 530.4h0M332.3 373.0h0M324.1 538.9h0M121.9 394.4h0M316.2 399.2h0M189.7 365.3h0M133.5 554.0h0M317.7 369.5h0M311.8 376.6h0M296.7 369.1h0M257.3 546.4h0M225.3 548.2h0M163.5 377.8h0M189.1 392.5h0M268.2 562.0h0M157.0 539.9h0M284.2 371.8h0M176.6 363.1h0M204.8 364.9h0M323.2 532.9h0M323.1 549.7h0M255.3 539.4h0M284.8 551.9h0M190.3 537.1h0M230.6 360.2h0M111.1 385.2h0M232.8 563.2h0M325.0 403.5h0M85.6 379.1h0M132.8 544.8h0M148.7 368.2h0M255.4 531.3h0M137.0 515.8h0M180.0 393.6h0M141.0 545.5h0M289.4 547.1h0M239.2 533.4h0M195.8 552.5h0M315.3 380.1h0M321.8 535.8h0M189.8 547.4h0M214.9 378.9h0M165.9 529.8h0M130.9 513.7h0M175.4 535.4h0M127.7 553.6h0M227.2 527.5h0M225.7 545.8h0M101.0 526.9h0M203.3 354.8h0M188.9 559.6h0M226.3 547.6h0M230.8 356.3h0M339.5 388.3h0M149.2 540.2h0M272.8 367.9h0M238.3 551.0h0M218.9 367.0h0M225.2 551.4h0M63.6 521.5h0M156.0 366.1h0M160.1 529.8h0M229.2 558.1h0M258.9 547.4h0M290.4 362.6h0M148.9 404.5h0M307.4 390.5h0M104.8 550.3h0M179.0 405.5h0M100.5 532.2h0M220.5 370.5h0M145.5 379.6h0M216.9 388.3h0M176.5 400.4h0M263.3 366.8h0M177.8 373.9h0M221.2 546.3h0M143.0 380.6h0M115.8 531.8h0M311.8 547.3h0M226.2 557.9h0M135.9 389.3h0M340.3 534.8h0M166.7 538.9h0M205.2 517.0h0M136.2 372.6h0M153.3 365.2h0M218.0 386.6h0M143.7 536.9h0M117.4 371.3h0M218.5 546.8h0M211.0 367.2h0M174.1 540.6h0M53.2 527.0h0M265.5 379.5h0M218.2 356.5h0M276.9 531.8h0M244.0 403.1h0M75.5 533.2h0M112.6 549.1h0M188.8 371.3h0M160.0 360.3h0M234.6 531.6h0M163.5 385.3h0M258.2 505.3h0M221.4 360.0h0M327.0 373.8h0M331.4 387.5h0M92.8 526.1h0M233.2 371.0h0M216.9 394.5h0M283.4 552.7h0M226.4 527.6h0M301.3 542.4h0M145.2 542.2h0M259.3 363.3h0M189.3 406.4h0M242.0 366.6h0M291.4 527.9h0M246.5 520.3h0M264.1 509.9h0M223.1 529.5h0M228.5 536.6h0M256.0 513.8h0M175.8 388.6h0M132.9 368.4h0M302.3 378.8h0M139.1 367.4h0M236.7 563.6h0M141.9 529.8h0M285.1 523.0h0M144.1 381.7h0M336.4 519.1h0M299.7 367.7h0M310.1 523.4h0M246.9 511.3h0M108.1 525.4h0M244.8 373.4h0M190.0 508.3h0M265.4 363.5h0M189.2 524.0h0M199.6 525.8h0M240.3 371.9h0M202.7 534.8h0M265.3 385.1h0M284.5 399.4h0M167.5 543.5h0M226.8 547.8h0M216.0 552.2h0M209.6 528.8h0M139.4 524.7h0M302.4 367.5h0M182.7 387.7h0M221.4 541.6h0M254.7 543.2h0M217.8 386.4h0M176.5 552.4h0M136.8 536.9h0M110.9 541.3h0M170.2 535.3h0M277.4 553.3h0M187.5 546.5h0M131.7 506.5h0M122.8 398.3h0M271.4 528.1h0M238.8 358.4h0M217.1 382.9h0M246.5 362.0h0M207.0 358.6h0M273.5 533.9h0M293.4 396.3h0M348.6 533.6h0M180.6 559.9h0M132.4 383.6h0M226.4 357.4h0M264.4 535.8h0M177.7 518.9h0M115.4 382.9h0M269.2 532.3h0M242.2 366.0h0M229.6 387.6h0M257.0 399.1h0M219.6 374.2h0M315.6 386.9h0M184.0 549.1h0M200.9 558.9h0M205.1 399.1h0M113.8 369.3h0M219.0 409.3h0M201.6 386.9h0M273.2 395.3h0M192.5 546.6h0M106.5 538.4h0M207.0 360.5h0M287.1 531.7h0M327.0 383.7h0M310.2 536.4h0M193.1 549.7h0M300.1 546.9h0M256.8 555.2h0M272.1 541.3h0M160.3 529.0h0M198.9 547.9h0M281.9 537.8h0M232.3 393.5h0M251.7 539.1h0M174.6 359.4h0M184.6 552.5h0M286.5 536.8h0M245.1 394.3h0M189.8 560.3h0M199.9 552.1h0M186.5 513.0h0M222.8 533.5h0M240.8 561.2h0M228.6 518.5h0M271.8 395.5h0M152.2 373.5h0M151.9 531.5h0M169.2 388.1h0M164.6 392.2h0M155.7 542.0h0M126.3 529.8h0M312.8 519.1h0M193.6 527.9h0M211.6 530.2h0M92.7 524.1h0M274.5 370.3h0M254.6 534.2h0M228.4 562.4h0M307.0 380.1h0M119.0 525.4h0M136.9 393.0h0M342.7 515.2h0M270.8 363.1h0M224.3 561.0h0M145.0 528.7h0M342.1 526.7h0M80.1 398.1h0M276.4 370.0h0M274.1 552.6h0M201.1 529.5h0M339.6 533.6h0M301.4 392.4h0M222.1 561.1h0M303.9 388.0h0M206.9 370.8h0M274.7 539.0h0M84.3 532.4h0M188.2 530.9h0M281.3 360.7h0M100.0 386.4h0M205.6 560.8h0M284.0 530.9h0M127.1 537.9h0M251.0 537.6h0M283.9 526.4h0M201.5 538.1h0M167.7 543.0h0M218.4 547.0h0M235.6 380.3h0M313.0 531.5h0M201.0 513.1h0M207.7 562.4h0M257.0 360.7h0M227.7 565.9h0M353.3 540.5h0M115.9 542.8h0M283.1 367.4h0M314.0 387.5h0M301.4 553.5h0M348.7 402.2h0M118.8 386.9h0M302.3 535.7h0M166.0 383.7h0M266.0 562.3h0M195.4 403.8h0M225.0 375.6h0M166.1 561.5h0M189.2 522.1h0M248.7 554.7h0M276.4 537.7h0M208.6 553.5h0M205.4 365.4h0M184.3 533.3h0M173.9 555.8h0M137.1 547.3h0M240.3 540.8h0M133.4 377.7h0M123.1 532.4h0M232.8 564.4h0M195.5 542.1h0M300.7 373.7h0M280.7 395.4h0M247.1 362.8h0M182.4 394.4h0M197.6 366.8h0M267.2 547.8h0M162.5 545.4h0M331.5 526.2h0M191.6 393.9h0M93.1 388.4h0M188.8 511.4h0M239.9 544.9h0M204.4 400.3h0M312.9 374.3h0M269.0 534.9h0M267.1 403.5h0M305.1 386.2h0M309.9 366.8h0M190.0 369.1h0M248.2 525.6h0M189.7 523.0h0M269.5 556.7h0M228.4 515.8h0M245.6 551.6h0M183.9 541.7h0M208.1 561.4h0M157.2 534.3h0M233.1 357.9h0M378.7 396.7h0M217.3 520.8h0M255.3 517.1h0M166.9 518.8h0M120.6 369.2h0M367.9 406.3h0M261.0 563.3h0M150.7 508.6h0M293.2 388.2h0M220.8 543.1h0M327.1 394.1h0M133.1 374.5h0M268.6 377.0h0M253.7 359.8h0M193.2 558.0h0M177.1 377.7h0M138.6 545.9h0M335.1 383.2h0M348.9 518.5h0M212.2 364.6h0M211.4 563.0h0M150.6 553.7h0M230.3 378.8h0M226.4 384.0h0M184.0 542.5h0M310.9 519.9h0M116.4 369.9h0M71.1 401.6h0M224.8 532.3h0M180.6 386.3h0M269.5 537.8h0M185.2 390.2h0M141.6 365.5h0M226.2 529.0h0M185.7 562.7h0M223.7 365.8h0M222.2 357.3h0M217.5 546.5h0M197.9 404.2h0M324.1 383.5h0M230.1 358.4h0M202.4 408.9h0M236.0 371.6h0M225.9 542.8h0M278.2 543.7h0M233.2 383.9h0M161.0 554.7h0M203.3 545.0h0M168.2 543.8h0M182.7 380.8h0M209.8 561.2h0M205.2 553.9h0M125.8 385.9h0M270.5 376.6h0M325.7 536.5h0M315.3 384.0h0M151.4 394.8h0M329.9 383.4h0M155.4 385.8h0M141.5 522.8h0M96.3 547.5h0M211.7 530.8h0M104.9 379.9h0M206.5 509.9h0M142.0 549.6h0M267.7 388.0h0M209.9 354.5h0M205.2 529.0h0M267.8 363.1h0M371.8 389.6h0M162.2 370.9h0M301.8 523.4h0M204.0 564.3h0M203.2 384.5h0M198.1 378.3h0M355.0 534.6h0M212.6 388.2h0M174.2 541.7h0M287.0 532.5h0M185.4 562.7h0M186.6 380.2h0M178.8 358.2h0M211.8 559.7h0M271.6 521.3h0M126.6 376.3h0M253.0 368.4h0M230.4 394.5h0M143.6 551.1h0M232.4 368.4h0M175.2 556.8h0M252.7 364.5h0M253.8 388.2h0M241.8 560.7h0M326.7 548.5h0M222.5 367.7h0M175.4 397.1h0M264.6 516.4h0M273.9 533.7h0M245.8 556.3h0M66.1 385.9h0M334.8 380.0h0M221.7 562.9h0M253.8 360.6h0M287.9 374.0h0M216.0 508.8h0M112.2 546.4h0M266.5 558.4h0M297.7 517.1h0M222.0 364.0h0M68.9 527.0h0M165.6 390.0h0M207.0 368.5h0M260.2 361.3h0M271.5 382.5h0M150.8 376.3h0M251.3 405.0h0M255.6 552.0h0M259.0 386.4h0M179.7 516.1h0M334.6 387.7h0M270.6 561.1h0M206.7 399.2h0M309.1 378.3h0M210.9 370.6h0M218.9 536.1h0M261.6 536.5h0M239.1 556.6h0M206.3 543.0h0M281.7 542.3h0M167.8 379.7h0M247.9 400.3h0M254.1 382.3h0M286.3 387.0h0M95.8 532.5h0M247.3 375.9h0M229.3 540.7h0M187.8 552.3h0M209.6 375.5h0M121.0 382.5h0M310.5 377.0h0M234.4 378.4h0M243.0 556.2h0M143.9 530.5h0M244.5 366.5h0M258.4 368.4h0M185.5 551.7h0M155.7 542.8h0M229.6 543.6h0M255.0 534.6h0M172.7 530.9h0M107.0 380.5h0M321.1 523.4h0M213.0 378.8h0M172.5 395.6h0M114.1 546.7h0M239.9 554.4h0M194.0 382.5h0M169.9 384.6h0M254.8 364.2h0M296.9 377.0h0M368.4 400.2h0M249.9 550.9h0M174.6 410.2h0M376.1 529.0h0M180.6 556.4h0M334.8 375.9h0M340.0 533.7h0M238.2 371.0h0M253.8 522.7h0M197.1 520.3h0M189.1 540.9h0M279.6 359.5h0M211.4 359.4h0M319.1 521.2h0M142.6 525.2h0M169.1 535.4h0M263.9 548.1h0M146.0 361.3h0M272.7 395.3h0M281.3 541.5h0M121.5 375.0h0M334.4 533.5h0M313.2 386.8h0M181.1 547.2h0M260.8 410.7h0M183.5 556.3h0M121.1 393.6h0M171.6 540.7h0M258.5 520.2h0M337.2 384.5h0M116.2 538.8h0M320.8 406.0h0M197.2 356.5h0M204.6 526.0h0M176.0 558.3h0M335.0 516.3h0M219.3 366.4h0M209.7 562.4h0M250.0 530.1h0M238.6 374.1h0M216.9 560.6h0M102.3 539.4h0M251.1 558.7h0M176.4 365.9h0M225.9 532.9h0M230.0 355.2h0M211.3 548.5h0M338.5 388.5h0M237.3 403.2h0M216.1 375.2h0M221.0 547.2h0M196.7 358.1h0M298.5 546.5h0M260.6 553.7h0M300.7 387.1h0M274.2 378.8h0M233.6 372.5h0M69.5 537.3h0M185.9 549.7h0M216.9 533.1h0M169.5 525.8h0M253.1 552.1h0M169.6 560.7h0M121.9 555.0h0M230.9 523.2h0M152.9 401.6h0M328.4 390.1h0M126.4 394.4h0M271.7 553.0h0M286.4 395.0h0M146.5 537.0h0M282.1 391.5h0M343.1 387.2h0M229.4 367.8h0M215.2 373.9h0M232.4 545.6h0M232.7 556.5h0M190.0 519.3h0M201.6 355.2h0M88.5 525.9h0M150.4 533.0h0M265.8 372.5h0M84.4 377.2h0M245.1 398.0h0M209.4 566.1h0M57.1 516.4h0M152.4 375.8h0M258.6 547.7h0M145.7 539.0h0M280.5 393.6h0M224.7 558.2h0M326.3 521.7h0M216.1 561.2h0M215.1 547.4h0M259.3 527.3h0M275.9 528.6h0M250.9 555.1h0M123.4 532.7h0M189.8 550.9h0M197.9 521.8h0M291.6 381.8h0M141.9 527.4h0M292.8 526.3h0M169.2 521.6h0M340.1 402.5h0M148.5 552.9h0M248.1 542.9h0M230.8 379.0h0M194.4 387.3h0M103.3 372.1h0M153.0 547.8h0M159.3 358.9h0M201.6 532.2h0M266.9 542.2h0M71.2 534.5h0M141.7 376.0h0M252.0 553.5h0M127.0 555.0h0M141.5 366.7h0M184.5 540.8h0M187.4 544.1h0M200.9 383.4h0M234.1 536.7h0M309.7 377.3h0M293.3 554.4h0M246.1 531.7h0M189.9 519.1h0M174.6 377.6h0M261.7 553.9h0M155.0 382.2h0M267.1 518.9h0M216.3 507.7h0M188.9 379.1h0M223.0 357.6h0M132.4 375.5h0M198.8 372.1h0M170.1 510.8h0M253.5 542.1h0M177.2 361.5h0M85.1 523.4h0M120.6 508.6h0M247.4 385.5h0M220.7 549.2h0M186.1 563.0h0M229.5 529.7h0M157.4 519.5h0M121.4 555.6h0M211.8 564.5h0M221.6 563.0h0M242.5 557.0h0M256.5 530.0h0M343.6 378.8h0M269.8 554.7h0M208.7 508.2h0M210.7 548.2h0M141.3 376.5h0M98.2 530.8h0M107.8 543.2h0M202.5 396.8h0M198.9 546.2h0M266.5 525.7h0M185.8 565.2h0M147.8 532.9h0M81.5 512.3h0M152.5 546.8h0M211.6 542.4h0M269.6 373.1h0M282.7 528.1h0M349.1 402.7h0M338.1 534.4h0M276.4 553.2h0M147.2 508.5h0M246.4 376.5h0M105.3 379.4h0M147.4 368.0h0M300.3 530.2h0M191.3 548.8h0M287.3 534.6h0M189.5 358.6h0M231.8 542.7h0M214.0 532.5h0M224.7 542.9h0M169.7 367.0h0M248.3 542.6h0M241.9 389.7h0M271.6 393.6h0M141.9 527.6h0M107.7 521.0h0M220.8 357.3h0M193.7 374.3h0M272.0 529.8h0M202.5 365.9h0M253.1 384.0h0M199.7 549.1h0M227.0 381.8h0M247.8 400.6h0M355.1 391.2h0M124.6 388.7h0M318.9 510.1h0M116.7 542.6h0M153.3 397.0h0M222.5 548.2h0M240.4 371.9h0M258.9 401.4h0M285.0 560.3h0M227.7 378.9h0M220.2 392.9h0M90.3 391.0h0M212.5 532.4h0M354.4 389.7h0M239.3 510.5h0M118.9 381.9h0M195.5 549.7h0M205.8 544.3h0M170.4 543.2h0M200.2 380.5h0M263.0 367.3h0M241.8 549.0h0M282.7 380.7h0M131.5 534.2h0M282.0 377.7h0M252.8 370.5h0M343.4 523.2h0M226.6 398.7h0M121.4 378.9h0M169.0 535.1h0M151.2 557.6h0M252.0 391.6h0M286.6 547.8h0M157.6 535.3h0M251.0 539.2h0M142.4 552.9h0M136.2 547.5h0M146.8 536.1h0M240.9 527.8h0M160.3 380.6h0M177.1 560.8h0M119.4 548.5h0M281.5 550.4h0M261.7 555.9h0M160.6 364.4h0M167.7 404.2h0M137.3 548.3h0M81.0 396.0h0M209.4 373.5h0M237.3 362.2h0M267.3 510.0h0M302.2 385.6h0M112.9 538.6h0M208.5 542.9h0M195.8 357.3h0M133.3 513.3h0M185.2 373.4h0M157.1 539.7h0M219.8 379.9h0M274.0 552.8h0M137.5 369.0h0M171.9 384.7h0M268.3 379.6h0M217.4 530.6h0M151.0 386.9h0M189.0 395.0h0M232.1 362.5h0M185.8 519.8h0M293.7 373.4h0M194.5 373.8h0M233.2 369.2h0M83.9 383.0h0M281.8 541.2h0M247.6 365.9h0M137.8 508.3h0M205.7 390.4h0M131.4 400.9h0M304.1 379.6h0M81.6 519.6h0M136.0 381.2h0M242.7 551.9h0M237.1 396.7h0M155.3 369.6h0M268.5 542.8h0M263.0 398.6h0M254.2 556.0h0M175.7 362.6h0M288.1 371.0h0M346.0 381.4h0M266.3 362.5h0M311.7 409.0h0M252.8 512.9h0M149.6 375.1h0M166.9 387.3h0M237.2 379.2h0M212.5 376.6h0M327.3 385.9h0M229.0 518.8h0M184.7 527.6h0M327.0 385.6h0M225.6 395.1h0M202.8 537.9h0M229.1 368.5h0M295.0 374.7h0M227.1 396.9h0M258.3 362.6h0M264.4 378.8h0M131.1 384.2h0M248.2 514.6h0M248.6 519.8h0M239.4 360.9h0M311.9 543.6h0M317.9 538.0h0M144.4 547.5h0M207.5 547.4h0M303.9 535.9h0M220.1 386.4h0M112.0 374.2h0M257.5 407.3h0M345.6 391.1h0M205.3 383.3h0M246.1 383.4h0M110.7 396.4h0M227.2 364.3h0M122.9 541.0h0M306.6 535.3h0M185.9 384.2h0M171.0 537.4h0M342.2 382.3h0M224.8 368.8h0M205.2 373.0h0M134.4 395.3h0M158.5 395.9h0M216.8 403.9h0M210.2 554.1h0M113.2 548.6h0M218.4 387.6h0M191.0 384.8h0M290.8 548.1h0M98.8 549.0h0M110.1 368.7h0M156.5 523.2h0M146.8 528.0h0M334.9 392.5h0M270.7 543.2h0M236.4 550.7h0M159.3 400.2h0M329.5 544.4h0M228.7 403.7h0M120.0 374.4h0M148.8 555.0h0M255.6 381.5h0M219.5 549.0h0M267.6 358.9h0M177.6 554.0h0M206.6 359.9h0M170.5 394.4h0M122.0 552.0h0M226.6 403.4h0M175.3 397.2h0M210.1 553.0h0M199.0 527.7h0M207.3 557.1h0M114.8 398.5h0M215.8 381.6h0M217.8 376.6h0M230.5 398.3h0M72.7 400.4h0M272.6 526.6h0M165.2 363.8h0M240.9 519.0h0M212.2 553.1h0M236.8 526.0h0M236.1 374.9h0M283.1 533.4h0M291.1 549.4h0M339.4 405.6h0M270.1 534.8h0M330.1 381.4h0M284.2 556.6h0M333.3 380.3h0M242.8 555.3h0M234.7 369.1h0M223.8 366.0h0M131.7 525.2h0M215.0 355.8h0M258.4 391.6h0M230.5 560.7h0M216.7 558.1h0M203.0 533.9h0M224.8 507.7h0M261.8 524.4h0M237.8 370.8h0M274.7 385.4h0M174.8 357.0h0M258.6 535.7h0M169.2 561.3h0M291.7 524.6h0M99.3 527.7h0M232.1 382.1h0M215.8 534.9h0M87.2 539.5h0M132.9 388.9h0M100.3 378.8h0M213.3 533.1h0M292.3 545.2h0M214.9 554.6h0M217.7 542.3h0M221.1 402.5h0M291.4 545.3h0M173.5 363.3h0M154.1 551.9h0M184.5 554.1h0M278.1 540.3h0M142.8 510.0h0M237.7 560.9h0M202.2 356.8h0M225.1 538.0h0M179.3 374.3h0M312.7 370.4h0M314.3 399.7h0M246.7 545.6h0M186.6 396.3h0M235.8 526.3h0M236.8 377.3h0M183.5 545.3h0M153.9 531.7h0M143.7 381.3h0M249.4 541.7h0M132.5 552.1h0M130.6 511.5h0M283.8 530.8h0M233.8 523.1h0M160.7 554.7h0M150.0 546.6h0M159.2 534.5h0M231.7 509.5h0M193.4 522.8h0M216.3 556.0h0M195.5 531.9h0M281.8 560.6h0M149.8 382.6h0M231.1 366.3h0M252.3 564.2h0M156.3 357.7h0M98.2 519.5h0M187.7 383.0h0M225.9 366.4h0M178.8 371.3h0M252.6 401.9h0M245.0 376.2h0M290.8 541.1h0M238.3 562.8h0M180.0 401.4h0M281.3 378.2h0M148.6 370.4h0M196.2 380.3h0M219.0 550.6h0M219.8 511.9h0M344.5 516.2h0M144.2 368.5h0M106.9 368.9h0M296.6 387.6h0M235.3 382.0h0M157.5 559.2h0M253.3 375.5h0M220.8 528.8h0M272.3 537.3h0M328.8 387.8h0M217.9 382.1h0M247.4 380.2h0M306.8 520.4h0M304.7 403.4h0M304.1 550.6h0M335.9 390.3h0M166.3 389.2h0M176.7 548.1h0M131.8 533.9h0M191.0 381.0h0M157.5 365.1h0M301.1 544.1h0M322.0 524.2h0M197.6 547.4h0M154.2 529.9h0M126.3 538.3h0M237.3 386.8h0M91.7 538.4h0M347.3 529.0h0M173.9 555.4h0M241.4 365.8h0M276.7 524.1h0M187.8 388.2h0M280.9 367.8h0M179.3 524.9h0M159.4 386.3h0M171.1 360.6h0M259.9 362.7h0M318.7 391.2h0M199.4 380.6h0M305.0 528.7h0M125.5 547.0h0M112.3 539.7h0M225.7 372.4h0M140.2 365.9h0M285.6 517.0h0M45.9 397.4h0M284.2 543.9h0M194.5 385.6h0M211.4 387.6h0M255.2 541.2h0M159.5 522.8h0M233.9 538.4h0M181.9 360.5h0M208.8 550.1h0M228.7 376.6h0M237.5 547.5h0M252.9 549.3h0M286.9 374.0h0M132.8 385.9h0M267.9 383.2h0M170.3 542.6h0M236.4 379.2h0M281.5 545.3h0M233.7 384.2h0M150.8 530.1h0M168.6 363.0h0M238.4 361.4h0M275.5 536.4h0M210.6 536.6h0M135.5 372.2h0M312.4 518.5h0M203.6 363.5h0M184.1 558.1h0M110.8 517.8h0M211.3 398.8h0M238.7 520.2h0M312.0 404.3h0M223.3 548.4h0M201.0 552.5h0M62.8 387.1h0M163.2 390.1h0M350.1 532.5h0M267.0 547.2h0M229.6 360.5h0M198.7 543.7h0M177.3 397.3h0M127.8 380.7h0M266.4 394.3h0M125.6 514.6h0M103.0 544.7h0M165.1 549.3h0M311.2 548.2h0M296.7 519.9h0M161.4 544.9h0M249.2 553.3h0M219.5 527.7h0M208.8 560.0h0M202.5 547.8h0M176.8 359.3h0M191.4 520.9h0M284.9 378.0h0M300.7 556.9h0M341.7 538.6h0M243.8 523.9h0" stroke="#000" stroke-width="4.80" stroke-linecap="round" fill="none"/></g>
</g>
<ellipse cx="214.5" cy="780.4" rx="214.0" ry="106.3" fill="none" stroke="#111" stroke-width="0.9"/>
<rect x="559.3" y="14.40" width="38.6" height="14.70" fill="#ff0000"/>
<rect x="559.3" y="28.70" width="38.6" height="14.70" fill="#ff2000"/>
<rect x="559.3" y="43.00" width="38.6" height="14.70" fill="#ff5800"/>
<rect x="559.3" y="57.30" width="38.6" height="14.70" fill="#ffa200"/>
<rect x="559.3" y="71.60" width="38.6" height="14.70" fill="#f0ff1a"/>
<rect x="559.3" y="85.90" width="38.6" height="14.70" fill="#b2ff00"/>
<rect x="559.3" y="100.20" width="38.6" height="14.70" fill="#8cff00"/>
<rect x="559.3" y="114.50" width="38.6" height="14.70" fill="#66ff14"/>
<rect x="559.3" y="128.80" width="38.6" height="14.70" fill="#5cff10"/>
<rect x="559.3" y="143.10" width="38.6" height="14.70" fill="#5cff10"/>
<rect x="559.3" y="157.40" width="38.6" height="14.70" fill="#5cff10"/>
<rect x="559.3" y="171.70" width="38.6" height="14.70" fill="#66ff44"/>
<rect x="559.3" y="186.00" width="38.6" height="14.70" fill="#66ffa0"/>
<rect x="559.3" y="200.30" width="38.6" height="14.70" fill="#66ffee"/>
<rect x="559.3" y="214.60" width="38.6" height="14.70" fill="#4ac8ff"/>
<rect x="559.3" y="228.90" width="38.6" height="14.70" fill="#3366ff"/>
<rect x="559.3" y="243.20" width="38.6" height="14.70" fill="#2244ff"/>
<rect x="559.3" y="257.50" width="38.6" height="14.70" fill="#2033ff"/>
<rect x="559.3" y="271.80" width="38.6" height="14.70" fill="#2a33ff"/>
<rect x="559.3" y="286.10" width="38.6" height="14.30" fill="#4530ff"/>
<path d="M597.9 14.40H559.3V300.40H597.9" fill="none" stroke="#111" stroke-width="1"/>
<path d="M597.6 14.40v5M597.6 300.40v-5" fill="none" stroke="#222" stroke-width="0.8"/>
<path d="M553.4 21.12H559M547.6 28.10H559M553.4 35.08H559M553.4 42.05H559M553.4 49.02H559M553.4 56.00H559M553.4 62.98H559M553.4 69.95H559M553.4 76.92H559M553.4 83.90H559M553.4 90.88H559M547.6 97.85H559M553.4 104.82H559M553.4 111.80H559M553.4 118.78H559M553.4 125.75H559M553.4 132.72H559M553.4 139.70H559M553.4 146.67H559M553.4 153.65H559M553.4 160.62H559M547.6 167.60H559M553.4 174.57H559M553.4 181.55H559M553.4 188.52H559M553.4 195.50H559M553.4 202.47H559M553.4 209.45H559M553.4 216.42H559M553.4 223.40H559M553.4 230.37H559M547.6 237.35H559M553.4 244.32H559M553.4 251.30H559M553.4 258.27H559M553.4 265.25H559M553.4 272.23H559M553.4 279.20H559M553.4 286.18H559M553.4 293.15H559M553.4 300.12H559" stroke="#2e2e2e" stroke-width="1.05" fill="none"/>
<text x="507.4" y="36.5" class="lab">0.4</text>
<text x="507.4" y="106.2" class="lab">0.3</text>
<text x="507.4" y="176.0" class="lab">0.2</text>
<text x="507.4" y="245.8" class="lab">0.1</text>
<rect x="559.3" y="334.80" width="38.6" height="14.70" fill="#ff0000"/>
<rect x="559.3" y="349.10" width="38.6" height="14.70" fill="#ff2000"/>
<rect x="559.3" y="363.40" width="38.6" height="14.70" fill="#ff5800"/>
<rect x="559.3" y="377.70" width="38.6" height="14.70" fill="#ffa200"/>
<rect x="559.3" y="392.00" width="38.6" height="14.70" fill="#f0ff1a"/>
<rect x="559.3" y="406.30" width="38.6" height="14.70" fill="#b2ff00"/>
<rect x="559.3" y="420.60" width="38.6" height="14.70" fill="#8cff00"/>
<rect x="559.3" y="434.90" width="38.6" height="14.70" fill="#66ff14"/>
<rect x="559.3" y="449.20" width="38.6" height="14.70" fill="#5cff10"/>
<rect x="559.3" y="463.50" width="38.6" height="14.70" fill="#5cff10"/>
<rect x="559.3" y="477.80" width="38.6" height="14.70" fill="#5cff10"/>
<rect x="559.3" y="492.10" width="38.6" height="14.70" fill="#66ff44"/>
<rect x="559.3" y="506.40" width="38.6" height="14.70" fill="#66ffa0"/>
<rect x="559.3" y="520.70" width="38.6" height="14.70" fill="#66ffee"/>
<rect x="559.3" y="535.00" width="38.6" height="14.70" fill="#4ac8ff"/>
<rect x="559.3" y="549.30" width="38.6" height="14.70" fill="#3366ff"/>
<rect x="559.3" y="563.60" width="38.6" height="14.70" fill="#2244ff"/>
<rect x="559.3" y="577.90" width="38.6" height="14.70" fill="#2033ff"/>
<rect x="559.3" y="592.20" width="38.6" height="14.70" fill="#2a33ff"/>
<rect x="559.3" y="606.50" width="38.6" height="14.30" fill="#4530ff"/>
<path d="M597.9 334.80H559.3V620.80H597.9" fill="none" stroke="#111" stroke-width="1"/>
<path d="M597.6 334.80v5M597.6 620.80v-5" fill="none" stroke="#222" stroke-width="0.8"/>
<path d="M553.4 341.52H559M547.6 348.50H559M553.4 355.48H559M553.4 362.45H559M553.4 369.43H559M553.4 376.40H559M553.4 383.38H559M553.4 390.35H559M553.4 397.32H559M553.4 404.30H559M553.4 411.27H559M547.6 418.25H559M553.4 425.23H559M553.4 432.20H559M553.4 439.18H559M553.4 446.15H559M553.4 453.12H559M553.4 460.10H559M553.4 467.07H559M553.4 474.05H559M553.4 481.02H559M547.6 488.00H559M553.4 494.98H559M553.4 501.95H559M553.4 508.92H559M553.4 515.90H559M553.4 522.88H559M553.4 529.85H559M553.4 536.83H559M553.4 543.80H559M553.4 550.77H559M547.6 557.75H559M553.4 564.73H559M553.4 571.70H559M553.4 578.67H559M553.4 585.65H559M553.4 592.62H559M553.4 599.60H559M553.4 606.58H559M553.4 613.55H559M553.4 620.52H559" stroke="#2e2e2e" stroke-width="1.05" fill="none"/>
<text x="507.4" y="356.9" class="lab">0.4</text>
<text x="507.4" y="426.6" class="lab">0.3</text>
<text x="507.4" y="496.4" class="lab">0.2</text>
<text x="507.4" y="566.1" class="lab">0.1</text>
<rect x="559.3" y="655.30" width="38.6" height="14.70" fill="#ff0000"/>
<rect x="559.3" y="669.60" width="38.6" height="14.70" fill="#ff2000"/>
<rect x="559.3" y="683.90" width="38.6" height="14.70" fill="#ff5800"/>
<rect x="559.3" y="698.20" width="38.6" height="14.70" fill="#ffa200"/>
<rect x="559.3" y="712.50" width="38.6" height="14.70" fill="#f0ff1a"/>
<rect x="559.3" y="726.80" width="38.6" height="14.70" fill="#b2ff00"/>
<rect x="559.3" y="741.10" width="38.6" height="14.70" fill="#8cff00"/>
<rect x="559.3" y="755.40" width="38.6" height="14.70" fill="#66ff14"/>
<rect x="559.3" y="769.70" width="38.6" height="14.70" fill="#5cff10"/>
<rect x="559.3" y="784.00" width="38.6" height="14.70" fill="#5cff10"/>
<rect x="559.3" y="798.30" width="38.6" height="14.70" fill="#5cff10"/>
<rect x="559.3" y="812.60" width="38.6" height="14.70" fill="#66ff44"/>
<rect x="559.3" y="826.90" width="38.6" height="14.70" fill="#66ffa0"/>
<rect x="559.3" y="841.20" width="38.6" height="14.70" fill="#66ffee"/>
<rect x="559.3" y="855.50" width="38.6" height="14.70" fill="#4ac8ff"/>
<rect x="559.3" y="869.80" width="38.6" height="14.70" fill="#3366ff"/>
<rect x="559.3" y="884.10" width="38.6" height="14.70" fill="#2244ff"/>
<rect x="559.3" y="898.40" width="38.6" height="14.70" fill="#2033ff"/>
<rect x="559.3" y="912.70" width="38.6" height="14.70" fill="#2a33ff"/>
<rect x="559.3" y="927.00" width="38.6" height="14.30" fill="#4530ff"/>
<path d="M597.9 655.30H559.3V941.30H597.9" fill="none" stroke="#111" stroke-width="1"/>
<path d="M597.6 655.30v5M597.6 941.30v-5" fill="none" stroke="#222" stroke-width="0.8"/>
<path d="M547.6 669.00H559M553.4 682.95H559M553.4 696.90H559M553.4 710.85H559M553.4 724.80H559M547.6 738.75H559M553.4 752.70H559M553.4 766.65H559M553.4 780.60H559M553.4 794.55H559M547.6 808.50H559M553.4 822.45H559M553.4 836.40H559M553.4 850.35H559M553.4 864.30H559M547.6 878.25H559M553.4 892.20H559M553.4 906.15H559M553.4 920.10H559M553.4 934.05H559" stroke="#2e2e2e" stroke-width="1.05" fill="none"/>
<text x="480.7" y="678.4" class="lab">0.020</text>
<text x="480.7" y="748.1" class="lab">0.015</text>
<text x="480.7" y="817.9" class="lab">0.010</text>
<text x="480.7" y="887.6" class="lab">0.005</text>
</svg>
</body></html>
